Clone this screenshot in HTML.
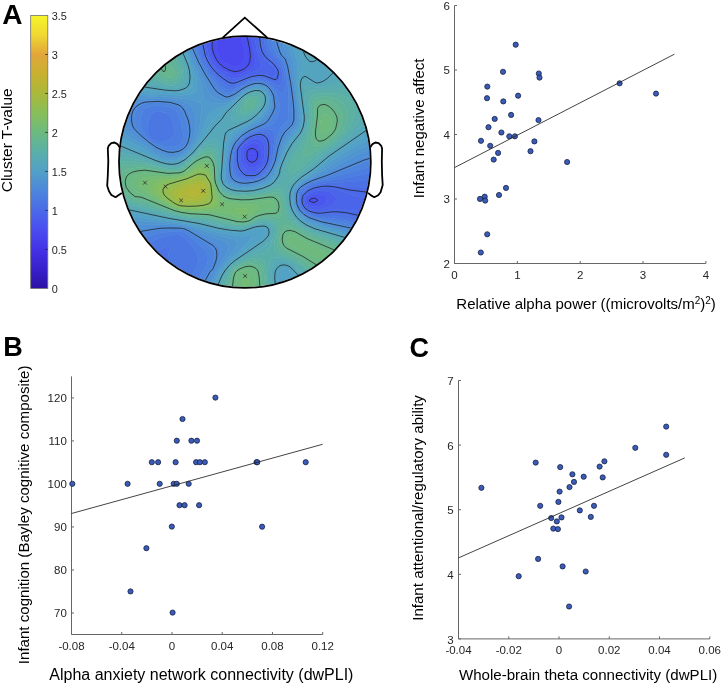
<!DOCTYPE html>
<html><head><meta charset="utf-8"><title>figure</title>
<style>html,body{margin:0;padding:0;background:#fff;overflow:hidden;width:722px;height:685px;} svg{display:block;will-change:transform;} text{font-family:"Liberation Sans", sans-serif;}</style>
</head><body>
<svg width="722" height="685" viewBox="0 0 722 685" font-family='"Liberation Sans", sans-serif'>
<rect width="722" height="685" fill="#fff"/>
<text x="2.3" y="24.2" font-size="28" text-anchor="start" font-weight="bold" fill="#000">A</text>
<text x="3.2" y="355.8" font-size="27" text-anchor="start" font-weight="bold" fill="#000">B</text>
<text x="409.5" y="356.6" font-size="27" text-anchor="start" font-weight="bold" fill="#000">C</text>
<defs><linearGradient id="cbg" x1="0" y1="1" x2="0" y2="0"><stop offset="0.0000" stop-color="#2c10a4"/><stop offset="0.0714" stop-color="#3820cc"/><stop offset="0.1429" stop-color="#4432e6"/><stop offset="0.2143" stop-color="#4a4cf0"/><stop offset="0.2857" stop-color="#4a6ae8"/><stop offset="0.3571" stop-color="#4d86dc"/><stop offset="0.4286" stop-color="#52a0c8"/><stop offset="0.5000" stop-color="#5aafa8"/><stop offset="0.5714" stop-color="#6cba80"/><stop offset="0.6429" stop-color="#88be5a"/><stop offset="0.7143" stop-color="#aab83a"/><stop offset="0.7857" stop-color="#c8b030"/><stop offset="0.8571" stop-color="#e2a63a"/><stop offset="0.9286" stop-color="#f0d832"/><stop offset="1.0000" stop-color="#f5f52a"/></linearGradient></defs>
<rect x="30.7" y="15.5" width="17.099999999999998" height="272.9" fill="url(#cbg)" stroke="#707070" stroke-width="0.8"/>
<text x="51.7" y="292.59999999999997" font-size="10.9" text-anchor="start" font-weight="normal" fill="#262626">0</text>
<line x1="45.199999999999996" y1="249.41" x2="47.8" y2="249.41" stroke="#262626" stroke-width="0.8"/>
<text x="51.7" y="253.6142857142857" font-size="10.9" text-anchor="start" font-weight="normal" fill="#262626">0.5</text>
<line x1="45.199999999999996" y1="210.43" x2="47.8" y2="210.43" stroke="#262626" stroke-width="0.8"/>
<text x="51.7" y="214.6285714285714" font-size="10.9" text-anchor="start" font-weight="normal" fill="#262626">1</text>
<line x1="45.199999999999996" y1="171.44" x2="47.8" y2="171.44" stroke="#262626" stroke-width="0.8"/>
<text x="51.7" y="175.6428571428571" font-size="10.9" text-anchor="start" font-weight="normal" fill="#262626">1.5</text>
<line x1="45.199999999999996" y1="132.46" x2="47.8" y2="132.46" stroke="#262626" stroke-width="0.8"/>
<text x="51.7" y="136.65714285714284" font-size="10.9" text-anchor="start" font-weight="normal" fill="#262626">2</text>
<line x1="45.199999999999996" y1="93.47" x2="47.8" y2="93.47" stroke="#262626" stroke-width="0.8"/>
<text x="51.7" y="97.67142857142856" font-size="10.9" text-anchor="start" font-weight="normal" fill="#262626">2.5</text>
<line x1="45.199999999999996" y1="54.49" x2="47.8" y2="54.49" stroke="#262626" stroke-width="0.8"/>
<text x="51.7" y="58.6857142857143" font-size="10.9" text-anchor="start" font-weight="normal" fill="#262626">3</text>
<text x="51.7" y="19.7" font-size="10.9" text-anchor="start" font-weight="normal" fill="#262626">3.5</text>
<text x="12.5" y="192.3" font-size="15.5" text-anchor="start" font-weight="normal" fill="#000" transform="rotate(-90 12.5 192.3)">Cluster T-value</text>
<clipPath id="headclip"><circle cx="244.9" cy="162.0" r="125.0"/></clipPath>
<g clip-path="url(#headclip)">
<path d="M221,34.3L237.7,34.1L240.2,37.1L241.8,40.1L243.2,44.1L244.3,49.1L244.7,54.1L244.4,58.1L243.5,61.1L242,63.5L240.1,65.1L237.7,66.1L235,66.5L230,65.5L224,62.2L220,57.7L217,51.1L216.4,46.1L218,39.8ZM251,153.5L252,153.1L253.6,154.1L253.9,155.1L253,157L251.3,157.1L250.4,156.1L250.2,155.1Z" fill="#4949ef" stroke="#4949ef" stroke-width="0.7"/>
<path d="M213,34.6L213.1,34.1L221.2,34.1L218,39.8L216.4,46.1L217.3,52.1L220.3,58.1L223,61.3L226.9,64.1L231,65.8L235,66.5L239,65.6L242,63.5L243.9,60.1L244.6,56.1L244.4,50.1L242.9,43.1L240.8,38.1L237.7,34.1L246.4,34.1L248,38.4L249.4,45.1L250.9,56.1L250.3,62.1L249,65L247.4,67.1L244.9,69.1L240.5,71.1L237,71.8L234,71.9L228.1,70.1L224.4,68.1L220.4,65.1L216,59.4L212.8,52.1L211.7,45.1ZM251,148L253,148L256,149.3L257.4,151.1L258,153.1L258,156.1L257,159.7L255,161.9L253,162.8L251,162.7L249,161.7L247.4,160.1L246.7,158.1L246.5,153.1L247,150.7L248.3,149.1ZM250.5,154.1L250.2,155.1L251,157L252,157.3L253,157L253.9,155.1L253.6,154.1L252,153.1ZM312,198L314,197.7L318,198.9L319,200.1L318.6,201.1L317.1,202.1L314,202.9L310.4,202.1L309,201.1L308.8,200.1L310,198.8Z" fill="#4a4fef" stroke="#4a4fef" stroke-width="0.7"/>
<path d="M209,34.1L213.1,34.1L211.8,44.1L211.9,48.1L213.8,55.1L217,61L220.4,65.1L225,68.5L230.5,71.1L235,72L240,71.2L244.9,69.1L248.2,66.1L250,63.1L250.9,58.1L250.5,51.1L248,38.4L246.4,34.1L250.6,34.1L255.2,59.1L255.2,63.1L254,66.1L251,69.1L246,72.1L241,74.1L236,75.2L233,75.1L230,74.3L222,69.9L218.7,67.1L216,64.1L213,59.3L211,55L209.2,47.1L208.7,36.1L208.7,34.1ZM252,142.9L256,142.8L259,144.8L261,148.9L261.6,153.1L261,159.1L259,163.7L256,166.8L254,167.8L252,168.1L250,167.7L248,166.5L245,163.1L243.6,159.1L243.1,154.1L243.3,151.1L245,147.8L248,144.9ZM250.5,148.1L248,149.3L246.8,151.1L246.5,154.1L246.7,158.1L247.4,160.1L249,161.7L251,162.7L253,162.8L255,161.9L257,159.7L258,156.1L258,153.1L257.4,151.1L255.6,149.1L253,148ZM316,194.1L321,194.2L325.1,196.1L326.1,197.1L326.9,199.1L326,202.1L323,204.8L319,206.4L314,206.6L309,205.2L307.7,204.1L306.5,202.1L306.3,200.1L307,198.1L309,196.2L311,195.2ZM311.6,198.1L309.6,199.1L308.8,200.1L309,201.1L310.4,202.1L314,202.9L317.1,202.1L318.6,201.1L319,200.1L318,198.9L314,197.7Z" fill="#4a56ed" stroke="#4a56ed" stroke-width="0.7"/>
<path d="M205,34.1L208.7,34.1L209.1,46.1L210.1,52.1L212.4,58.1L216,64.1L220,68.3L225,71.9L230,74.3L235,75.2L240,74.4L246,72.1L252.2,68.1L254.6,65.1L255.3,62.1L255.1,58.1L250.6,34.1L254.1,34.1L257,51.1L261.4,64.1L261.1,67.1L258.9,69.1L255.1,71.1L243.2,76.1L238,77.7L235,78.3L232,78.2L226,75.7L221,72.3L217,68.8L213.2,64.1L210.3,59.1L207.7,52.1L204.8,35.1L204.7,34.1ZM253,139.1L258,138.6L260,139.4L262,141.1L263.2,143.1L264.2,146.1L264.8,153.1L263.7,161.1L261.2,166.1L259,168.7L256.1,171.1L254,172L252,172.1L249,171.6L247,170.6L243,166.2L241,161.1L240.2,153.1L241.2,149.1L244,145.1L248.6,141.1ZM251.5,143.1L248,144.9L245,147.8L243.3,151.1L243.1,154.1L243.6,159.1L245,163.1L248,166.5L250,167.7L252,168.1L254,167.8L256,166.8L259,163.7L261,159.1L261.6,153.1L260.7,148.1L258.3,144.1L257,143.2L255,142.6ZM316,191.1L320,190.6L324,190.8L328,191.7L331,193.1L333.9,195.1L335.5,197.1L336.2,199.1L335.9,201.1L334.5,203.1L331.7,205.1L327.6,207.1L322,209.1L316,209.6L312,209L309,207.9L306.5,206.1L305,203.7L304.4,201.1L304.9,198.1L306.1,196.1L309,193.7L312,192.2ZM315.7,194.1L310,195.7L307,198.1L306.3,201.1L307,203.1L308,204.4L312,206.3L317,206.6L322,205.3L325.2,203.1L326.6,201.1L326.9,199.1L326.1,197.1L325.1,196.1L321,194.2Z" fill="#4a5dec" stroke="#4a5dec" stroke-width="0.7"/>
<path d="M201,34.1L204.7,34.1L208.2,54.1L210.8,60.1L214,65.2L218,69.8L224,74.4L230,77.6L234,78.4L239,77.5L245.6,75.1L257.2,70.1L260.3,68.1L261.1,67.1L261.4,64.1L257,51.1L254.1,34.1L257.6,34.1L259.3,47.1L261.1,53.1L265,59.4L271.7,65.1L274.2,68.1L276.1,72.1L275.5,75.1L274,76.4L272,76.5L264,74L260,73.7L251,75.6L235,81.5L231,81.4L227,79.6L221,75.5L217,72.1L213,67.6L209.4,62.1L205.9,54.1L204,44.1L201.8,38.1ZM255,135.9L259,135.5L261.7,136.1L264,137.5L266,140.1L267,143.1L267.6,148.1L267,158.4L266,162.5L264.3,166.1L259,172.2L255,174.6L248,174.6L246,174L244,172.4L241.3,169.1L239.6,166.1L238.4,161.1L238.1,151.1L240,147L245.2,141.1L249.4,138.1ZM252.9,139.1L248,141.5L244,145.1L241.2,149.1L240.2,153.1L241,161.1L243,166.2L247,170.6L249,171.6L252,172.1L254,172L256.1,171.1L259,168.7L261.2,166.1L263.7,161.1L264.8,153.1L264.2,146.1L263.2,143.1L262,141.1L260,139.4L258,138.6L256,138.5ZM318,188.1L325,187.5L333,188.6L338,189.9L350,194.4L363.9,198.1L368,200L370,201.9L370.9,204.1L370.5,206.1L369,208.1L367,209.5L364,210.8L361,211.3L343,209.4L333,209.9L320,212.2L316,212.1L311,210.9L307,209L304.3,206.1L302.8,202.1L303,198.1L304.6,195.1L308,191.9L312,189.8ZM316,191.1L312,192.2L309,193.7L306.1,196.1L304.9,198.1L304.4,201.1L305,203.7L306.5,206.1L309,207.9L312,209L316,209.6L322,209.1L327.6,207.1L331.7,205.1L334.5,203.1L335.9,201.1L336.2,199.1L335.5,197.1L333.9,195.1L331,193.1L328,191.7L324,190.8L320,190.6Z" fill="#4a64ea" stroke="#4a64ea" stroke-width="0.7"/>
<path d="M198,34.1L200.8,34.1L204,44L205.4,52.1L206.5,56.1L209.4,62.1L212.6,67.1L217,72.1L223,77L229,80.6L233,81.7L237,80.9L251,75.6L258,74L264,74L272,76.5L274,76.4L275.5,75.1L276.1,72.1L274.9,69.1L271.7,65.1L264.8,59.1L262.6,56.1L260.7,52.1L259.1,46.1L257.6,34.1L260.6,34.1L262,46.1L264,52L267.9,57.1L275,63.3L279,69.3L280,74.1L279.8,77.1L278.9,80.1L277,81.7L275,81.7L264,77L261,76.4L258,76.4L250,78L234,84.5L231,84.5L227,82.9L221,78.5L216,74L212,69.5L208.4,64.1L204.5,56.1L201.8,45.1L198.7,38.1L197.5,34.1ZM256,133.9L260,133.4L264,134.1L267,135.9L268.6,138.1L269.7,142.1L270,147.1L269.6,154.1L268.7,160.1L267.4,164.1L265.2,168.1L262.8,171.1L259,174.5L256.1,176.1L254,176.6L246,176.4L243.2,175.1L241.1,173.1L239,170.2L237.5,167.1L236.4,160.1L236.8,150.1L240,144.7L245.3,139.1L250,136.1ZM254.3,136.1L249,138.3L245,141.3L240,147L238.1,151.1L238.4,161.1L239.6,166.1L241.3,169.1L244,172.4L246,174L248,174.6L255,174.6L259,172.2L262.1,169.1L264.9,165.1L267,158.1L267.6,147.1L267,143.1L266,140.1L264,137.5L261,135.8L258,135.5ZM325,185.1L336,185.3L351,186.9L373,187.4L373,218.2L367,218.6L361,218.2L347,215L336,213.5L318,214.1L311,212.5L306,210L303,206.6L301.4,202.1L301.5,198.1L303.3,194.1L307,190.5L312,187.8L318,186ZM317.9,188.1L312,189.8L308,191.9L304.6,195.1L303,198.1L302.8,202.1L304.3,206.1L307,209L311,210.9L316,212.1L320,212.2L333,209.9L343,209.4L361,211.3L364,210.8L367,209.5L369,208.1L370.5,206.1L370.9,204.1L370,201.9L368,200L363.9,198.1L350,194.4L338,189.9L333,188.6L325,187.5Z" fill="#4a6ae8" stroke="#4a6ae8" stroke-width="0.7"/>
<path d="M195,34.1L197.5,34.1L199.1,39.1L201.8,45.1L204.8,57.1L207.8,63.1L211,68.1L216,74L222,79.3L228,83.4L232,84.7L236,83.9L250,78L257,76.5L261,76.4L264,77L275,81.7L277,81.7L278.9,80.1L279.8,77.1L280,74.1L279.6,71.1L278.4,68.1L274.8,63.1L266.1,55.1L264,52.1L262.8,49.1L261.7,44.1L260.6,34.1L263.4,34.1L264.5,44.1L266.4,50.1L269.1,54.1L278,63.2L281.3,69.1L282.2,73.1L282.5,78.1L282.1,82.1L281.3,84.1L280,85.3L277,85.4L265,79.3L262,78.4L258,78.2L253,78.8L249,80L234,86.9L230,87.2L227,86.1L222,82.4L216,76.8L211.1,71.1L207.7,66.1L203.1,57.1L200,46.7L196.5,39.1ZM258,132.1L262,131.7L266,132.1L269,133.5L271,136.1L271.9,140.1L271.9,145.1L271.2,155.1L270.1,161.1L268.1,166.1L266,169.5L262.8,173.1L259,176L256,177.4L253,178L247,178.2L244,177.6L241.1,176.1L239,174.1L237,171.1L235.8,168.1L234.9,161.1L235.7,150.1L237,147.1L239,144.1L244.8,138.1L251,134.3ZM255.1,134.1L249,136.6L244.2,140.1L238.9,146.1L236.6,151.1L236.4,161.1L237.5,167.1L239,170.2L241.1,173.1L243.2,175.1L246,176.4L255,176.4L259.5,174.1L263,170.9L265.9,167.1L267.8,163.1L268.9,159.1L269.7,153.1L269.9,146.1L269.5,141.1L268.6,138.1L266,135.1L263,133.8L259,133.4ZM366,180.1L373,179.4L373,187.4L350,186.9L337,185.3L329,185L321,185.5L314,187.1L308,189.8L304,193.2L301.8,197.1L301.4,202.1L302.7,206.1L305,209.2L308,211.2L312.8,213.1L320,214.3L331,213.4L337,213.6L347,215L361,218.2L367,218.6L373,218.2L373,223.6L363,222.5L349,218.7L338,216.7L331,216L320,215.9L315,215.1L310,213.4L306,211.3L303,208.5L301.1,205.1L300.3,202.1L300.2,199.1L300.8,196.1L302,193.3L306,189.4L312,186.2L318,184.4L326,183L350,181.8ZM166,246.8L169,246.2L170,246.3L171.1,247.1L168.5,254.1L167.9,257.1L168.6,273.1L167.7,277.1L165.9,281.1L160.1,290.1L117,290.1L117,269.7L160,249.2Z" fill="#4b71e5" stroke="#4b71e5" stroke-width="0.7"/>
<path d="M192,34.1L194.7,34.1L196.5,39.1L199.8,46.1L203.5,58.1L206.5,64.1L210.3,70.1L216,76.8L223,83.3L227,86.1L231,87.3L235,86.6L250,79.6L257,78.2L261,78.3L264,79L277,85.4L280,85.3L281.3,84.1L282.3,81.1L282.5,77.1L282.1,72.1L280.9,68.1L277.9,63.1L268.3,53.1L266.4,50.1L265.2,47.1L264.2,42.1L263.4,34.1L266.4,34.1L267.5,43.1L269.6,49.1L272.9,54.1L280.7,63.1L283.3,69.1L284.6,75.1L285.1,82.1L284.9,87.1L283.9,91.1L283,92.3L281,92.4L268,82.5L263,80.4L259,79.7L254,80.2L249,81.6L233,89.7L229,90L225,88.4L221,85.1L215,78.8L210,72.7L206.3,67.1L201.6,58.1L198,47.8L194.2,40.1ZM155,111.8L159,111.4L165,112.4L168.4,114.1L171,117.1L173.6,126.1L174.2,132.1L173.4,135.1L172.3,137.1L169,140.1L164,141.2L157,140.9L151,139.4L149.2,137.1L147.1,130.1L147.3,124.1L151,115L152.6,113.1ZM261,130L266,129.5L270,129.8L272.6,131.1L274,133.8L274.4,139.1L273.1,153.1L272.4,158.1L270.9,163.1L268.6,168.1L266,171.9L263,174.8L259.6,177.1L256,178.6L251,179.5L246,179.6L242,178.8L239,177.3L237,175.4L235.6,173.1L234.2,169.1L233.5,165.1L233.4,160.1L234,153.1L235,149.1L236.4,146.1L239,142.3L245,136.6L252,132.6ZM257.8,132.1L251,134.3L244.8,138.1L239,144.1L237,147.1L235.7,150.1L234.9,161.1L235.8,168.1L237,171.1L239,174.1L241.1,176.1L244,177.6L247,178.2L253,178L256,177.4L259,176L262.8,173.1L266,169.5L268.1,166.1L270.1,161.1L271.2,155.1L271.9,145.1L271.9,140.1L271,136.1L269,133.5L266,132.1L262,131.7ZM370,173L373,172.5L373,179.4L351,181.7L326,183L318,184.4L312,186.2L306.4,189.1L302.9,192.1L300.8,196.1L300.2,201.1L301.1,205.1L303.5,209.1L307,212L311,213.8L319,215.8L332,216L339,216.8L350,218.9L363,222.5L373,223.6L373,228.1L363,226L353,222.5L346,220.8L333,218.5L320,217.5L314,216.2L309,214.3L305,211.9L302.2,209.1L300.4,206.1L299.1,200.1L300,194.1L301,192.1L303,189.8L309,186L315,183.6L321,182L349,177.3ZM174,235.1L178,235.1L181,235.7L183.7,237.1L186.1,239.1L190.4,244.1L195.2,251.1L197.3,255.1L198.3,259.1L197.7,264.1L194,271.4L189.7,277.1L178.2,290.1L160.1,290.1L165.4,282.1L168.3,275.1L168.7,270.1L167.8,258.1L168.5,254.1L171,248.1L171.1,247.1L170,246.3L167,246.6L162,248.3L117,269.7L117,254.6L140,246.7L159.9,238.1L167.2,236.1Z" fill="#4b77e2" stroke="#4b77e2" stroke-width="0.7"/>
<path d="M190,34.1L192,34.1L194.2,40.1L198,47.8L202.1,59.1L207.6,69.1L216,80L221,85.1L225,88.4L228,89.8L232,89.9L235,88.9L249,81.6L255,80L260,79.8L264,80.7L268,82.5L280,91.8L282,92.6L283,92.3L284,90.8L285,86.4L285.1,80.1L284.1,72.1L282.7,67.1L281,63.6L272.1,53.1L268.7,47.1L267.2,41.1L266.4,34.1L269.8,34.1L270.7,41.1L273,48.1L276.9,55.1L282.7,62.1L284.1,65.1L285.5,70.1L287.2,79.1L288.2,88.1L288.9,116.1L288.3,119.1L287.4,121.1L281,127.1L279,130.7L275.9,145.1L274,158.1L271.1,166.1L269,170.1L266,174L260,178.3L254,180.3L246,181.2L240,180.1L236,177.8L233.6,174.1L232.2,168.1L231.9,161.1L232.8,153.1L234.2,148.1L236.3,144.1L239.5,140.1L244,136L248,133.3L252,131.4L270,125.4L272.3,124.1L274.5,122.1L278.6,114.1L280.2,108.1L279.6,104.1L276.6,94.1L273.2,89.1L269,85L264,82.3L259,81.2L254,81.6L249,83.1L242,86.7L235,91.1L231,92.7L227,92.7L223,90.6L219,87.2L214,81.3L209,74.6L204.8,68.1L200.6,60.1L196,48.8L191.6,40.1L189.2,34.1ZM260.5,130.1L252,132.6L245,136.6L239,142.3L236.4,146.1L235,149.1L234,153.1L233.4,160.1L233.5,165.1L234.2,169.1L235.6,173.1L237,175.4L239,177.3L242,178.8L246,179.6L251,179.5L256,178.6L259.6,177.1L263,174.8L266,171.9L268.6,168.1L270.9,163.1L272.7,156.1L274.2,142.1L274.4,137.1L273.8,133.1L272.6,131.1L270,129.8L266,129.5ZM151,105.9L158,105.6L169,107.1L174,109.1L177,112L178.6,115.1L181,122.2L183.1,132.1L183.1,136.1L182.4,140.1L181,142.9L179,144.7L176.1,146.1L173,146.7L169,146.8L165,146.2L158,144.2L151,141.4L149.1,140.1L147.5,138.1L143.6,132.1L141.2,127.1L140.3,123.1L140.4,119.1L141.6,114.1L143.8,110.1L147,107.4ZM154.2,112.1L152.6,113.1L151,115.1L148,121.7L147.1,125.1L147.3,131.1L149.7,138.1L150.5,139.1L152,139.9L158.7,141.1L165,141.1L169,140.1L172.3,137.1L173.4,135.1L174.2,132.1L173.6,126.1L171,117.1L168.4,114.1L164,112.1L158,111.4ZM373,166.1L373,172.5L349,177.3L322,181.8L315,183.6L310,185.5L305,188.2L301.7,191.1L299.7,195.1L299.1,200.1L300,205.1L302.2,209.1L305.3,212.1L310,214.7L319,217.3L335,218.8L352,222.2L363,226L373,228.1L373,232.2L361,228.7L350,224.3L334,221L321,219.3L313,217.2L309,215.6L305,213.2L302.6,211.1L300.2,208.1L298.8,205.1L298,201.1L298.6,194.1L299.3,192.1L301,189.6L305.7,186.1L311,183.5L316,181.6ZM167,232L179,231.4L182,231.9L185.1,233.1L191.8,238.1L200.8,246.1L204.6,250.1L207.1,254.1L207.9,257.1L208.1,260.1L206.8,265.1L199,278.3L189.3,290.1L178.2,290.1L189.7,277.1L194.2,271.1L197.7,264.1L198.3,261.1L198.2,258.1L196.3,253.1L191.1,245.1L186.1,239.1L182,236.1L179,235.2L175,235L163.1,237.1L157.2,239.1L138,247.5L117,254.6L117,244.6L139,239.6L157,233.8Z" fill="#4c7de0" stroke="#4c7de0" stroke-width="0.7"/>
<path d="M187,34.1L189.2,34.1L192,41.1L196.2,49.1L200.6,60.1L207,71.6L217,84.9L220,88.2L223.7,91.1L228,92.9L232,92.4L235,91.1L242,86.7L249,83.1L254,81.6L259,81.2L264,82.3L269.1,85.1L274,90.1L277,95.1L279.6,104.1L280.2,108.1L278.6,114.1L274.5,122.1L272.3,124.1L270,125.4L253,131L246,134.6L242,137.6L238.6,141.1L235.7,145.1L233.9,149.1L232.5,155.1L231.9,163.1L232.3,169.1L233.6,174.1L235.3,177.1L238,179.2L242,180.7L246,181.2L253,180.5L259,178.7L264.8,175.1L268.3,171.1L271.6,165.1L273.7,159.1L276,144.4L279.2,130.1L281,127.1L287,121.6L288.6,118.1L289,113.1L288.4,92.1L287.7,83.1L286.4,74.1L285,67.9L283.3,63.1L275.6,53.1L271.9,45.1L270.5,40.1L269.8,34.1L273.5,34.1L274.4,40.1L277.9,51.1L279.9,55.1L284.5,60.1L286.9,67.1L289.2,79.1L291,91.4L292.5,107.1L292.9,118.1L292.4,121.1L291,124L283.8,131.1L280.9,136.1L277.6,146.1L275,159.9L271.7,168.1L269.4,172.1L267,175.1L262,178.7L255,181.3L246,182.7L240,182.1L235,179.9L232.4,177.1L231,172.7L230.4,165.1L230.9,157.1L232.1,151.1L234,146.1L236.3,142.1L240,137.9L244,134.6L249,131.4L265.9,124.1L268.4,122.1L270.8,119.1L274.6,112.1L276.2,107.1L274.8,97.1L273.4,93.1L270.9,89.1L267,85.4L263,83.4L258,82.6L253,83.3L249,84.6L242,88.4L235,93.2L229,95.7L227,95.8L225,95.3L219.8,92.1L217,89.7L214,85.9L204,70.5L198.6,60.1L193.8,49.1L189.9,42.1L186.5,34.1ZM147,103L157,102.4L170,103.6L177,105.9L181.1,109.1L182.8,112.1L186.3,121.1L188.2,131.1L187.9,136.1L187,141.1L185.1,145.1L183,147.5L179,149.8L174,151L169,150.8L163,149.2L156,146.1L149,141.6L143.1,136.1L138.5,131.1L135.6,127.1L134.5,124.1L134,118.1L134.8,113.1L136.2,110.1L139,106.9L143,104.3ZM150,106.1L145.8,108.1L143.1,111.1L141.2,115.1L140.3,120.1L140.4,124.1L141.6,128.1L144.2,133.1L148.2,139.1L150,140.8L155,143.1L161,145.2L167,146.6L174,146.6L177,145.8L179.9,144.1L181.5,142.1L182.7,139.1L183.2,135.1L183,131.1L182,125.8L180,119.1L178.2,114.1L176.3,111.1L173,108.5L168,106.8L157,105.5ZM373,160L373,166.1L316,181.6L307,185.4L302.6,188.1L300,190.8L298.6,194.1L297.9,199.1L298.5,204.1L300.9,209.1L304,212.4L309,215.6L319,218.9L335,221.2L352,224.8L361,228.7L373,232.2L373,236.1L357,230.2L351,227L334,223.2L322,221.2L313,218.6L308,216.5L305,214.6L302,212L299.6,209.1L298,206.1L297.2,203.1L296.8,199.1L297,195.1L298.7,190.1L300.4,188.1L303,186.1L314,180.6L328.2,176.1L365,162.1ZM167,229.1L180,229L186,230.5L195.1,236.1L208.3,245.1L211.7,248.1L213.1,250.1L214.1,253.1L214.5,257.1L213.9,261.1L212.4,266.1L211.4,268.1L208,272.1L203,281.3L196.5,290.1L189.3,290.1L199,278.3L206.3,266.1L207.9,262.1L207.9,257.1L206,252.1L202.8,248.1L193,239.1L185.1,233.1L182,231.9L178,231.4L170,231.7L162,232.7L155,234.3L138,239.9L117,244.6L117,236.7L139,233.9L156,230.1Z" fill="#4d84dd" stroke="#4d84dd" stroke-width="0.7"/>
<path d="M184,34.1L186.5,34.1L189.9,42.1L194,49.6L199.5,62.1L207,75.5L215,87.2L219.8,92.1L225,95.3L227,95.8L229,95.7L235,93.2L242,88.4L249,84.6L254,83.1L259,82.6L264,83.8L268,86.1L271.6,90.1L273.9,94.1L274.8,97.1L276.2,106.1L276.1,108.1L273.6,114.1L270.1,120.1L268,122.5L265,124.6L249,131.4L242,136.1L238.8,139.1L236,142.5L234,146.1L232.4,150.1L231.1,156.1L230.4,164.1L230.8,171.1L231.9,176.1L234,179.1L237,181L241,182.3L245,182.7L253,181.8L259,180.1L265,176.8L268.7,173.1L272,167.4L274.6,161.1L277.6,146.1L281,135.8L283.8,131.1L290.9,124.1L292.6,120.1L292.7,109.1L291.5,96.1L289.5,81.1L286.9,67.1L284.5,60.1L280,55.2L278.3,52.1L273.9,38.1L273.5,34.1L277.3,34.1L277.9,38.1L281.3,51.1L282.8,54.1L286.9,59.1L288.4,64.1L294,99.3L295,109.1L295.4,119.1L294.5,123.1L293,126L285.3,134.1L282,139.7L279,148L276.3,160.1L272,170.4L268.1,176.1L264,179.2L256,182.4L248,184L241,184L235,182.3L231.8,180.1L230.4,178.1L229.6,176.1L228.9,170.1L229.1,162.1L229.9,155.1L231.5,149.1L234,143.4L237.1,139.1L241,135.3L246,131.8L263.1,123.1L266.4,120.1L269.2,116.1L272.4,110.1L273.4,106.1L272.7,97.1L270.9,92.1L268,88.1L265,85.8L261,84.3L257,84L252,84.9L248,86.4L242,89.9L235,95L229,97.9L226,98.3L224,98L217,94.4L214.4,92.1L212.2,89.1L205,76.7L197.5,62.1L192,50.1L187.5,42.1ZM143,100.9L159,100.2L169,100.9L179,103.3L182.6,105.1L185,107.1L187.5,111.1L190.7,119.1L191.8,125.1L192,130.1L191.1,137.1L189.2,143.1L186.9,147.1L184,150L179,152.8L174,154L169,153.9L163,152.2L158,149.8L154,147.3L137.8,135.1L132,129.7L129.7,126.1L128.4,121.1L128.3,116.1L129.3,111.1L131,108.1L134,105L138,102.6ZM146.7,103.1L143,104.3L138.8,107.1L136.2,110.1L134.8,113.1L134,118.1L134.5,124.1L135.6,127.1L138.5,131.1L143.1,136.1L149,141.6L156,146.1L163,149.2L169,150.8L174,151L179,149.8L183,147.5L185.1,145.1L187,141.1L187.9,136.1L188.2,131.1L186.3,121.1L182.8,112.1L181.1,109.1L177,105.9L170,103.6L156,102.4ZM371,154.8L373,154.2L373,160L365,162.1L328.2,176.1L314,180.6L304,185.5L300.4,188.1L298.2,191.1L297.2,194.1L296.8,199.1L297.4,204.1L299.6,209.1L303,213L308,216.5L313,218.6L320,220.7L335,223.4L352,227.4L357,230.2L373,236.1L373,239.8L355,231.9L349,228.9L322,222.9L312,219.6L305,216L299.7,211.1L297.8,208.1L296.5,205.1L295.8,201.1L295.7,197.1L296.2,193.1L297,190.7L298.6,188.1L301,185.9L305,183.3L312,179.8L324.7,175.1L361,158.3ZM156,227.1L177,227L185.1,228.1L189.9,230.1L215.1,243.1L218.1,245.1L219.8,247.1L220.8,250.1L220.6,253.1L219.3,258.1L216.9,264.1L214.6,269.1L210.7,274.1L206,283L201.6,290.1L196.5,290.1L203,281.3L208.6,271.1L212,267.1L214.3,259.1L214.1,253.1L212.5,249.1L209.5,246.1L188.9,232.1L185,230.1L181,229.1L164,229.2L154,230.5L139,233.9L117,236.7L117,230.2L139,229Z" fill="#4e8ad9" stroke="#4e8ad9" stroke-width="0.7"/>
<path d="M182,34.1L183.8,34.1L200.5,68.1L209,83.8L213.6,91.1L217,94.4L224,98L226,98.3L229,97.9L235,95L242,89.9L248,86.4L253,84.6L258,83.9L262,84.5L266,86.4L269,89.2L271.9,94.1L272.9,98.1L273.4,107.1L271.4,112.1L267.2,119.1L263,123.1L255.8,127.1L248,130.6L240.1,136.1L234.8,142.1L231.2,150.1L229.7,156.1L228.9,164.1L229,172.1L229.9,177.1L231.8,180.1L234.6,182.1L239,183.6L244,184.2L252,183.4L259,181.4L265,178.6L269,175.1L272.2,170.1L275.6,162.1L279.2,147.1L282.3,139.1L285.3,134.1L293,126L295,121.6L295.4,116.1L294.4,103.1L291.4,81.1L288.6,65.1L286.9,59.1L282.8,54.1L281.7,52.1L277.5,36.1L277.3,34.1L281.4,34.1L282.3,40.1L284.4,49.1L285.7,52.1L289.3,58.1L290.8,63.1L296.5,105.1L297.4,115.1L297.4,120.1L296.4,124.1L294.9,127.1L287,136.1L283,142.7L280.5,149.1L277.4,161.1L272.7,172.1L269.3,177.1L265,180.4L257,183.6L248,185.4L241,185.6L234.5,184.1L230,181.2L228.1,178.1L227.4,174.1L227.4,166.1L228.2,158.1L229.5,151.1L232.1,144.1L235,139.4L239,135.2L244,131.5L256.1,125.1L262,121.1L265,118L268.9,112.1L271,107.1L271.4,103.1L271.1,97.1L269.3,92.1L267,89L264,86.8L260,85.4L256,85.3L251,86.5L247,88.3L242.4,91.1L234,97.3L228,100.2L225,100.7L221,100.3L217.1,99.1L214,97.5L211,94.8L208.6,91.1L191,52.4L181.1,34.1ZM138,98.9L144,98.3L152,98.7L162,98.1L168,98.6L183,101.7L187,103.5L190.4,106.1L193.2,110.1L194.9,115.1L195.8,122.1L195.6,129.1L194.5,135.1L192,142.1L189.3,147.1L186,150.9L181,154.3L176,156.1L170,156.5L164,155.1L159.2,153.1L155,150.7L147,144.1L133.7,136.1L127.8,131.1L124.4,126.1L122.7,121.1L122.2,116.1L123.2,111.1L125.2,107.1L129,103.1L133,100.7ZM142.2,101.1L138,102.6L133.9,105.1L131,108.1L129,112.1L128.2,117.1L128.6,122.1L129.7,126.1L132.3,130.1L137.8,135.1L154,147.3L159,150.4L164,152.5L170,154L175,153.8L180.6,152.1L185,149.2L188,145.4L190,141.1L191.5,135.1L192,129.1L191.5,123.1L190.4,118.1L187.5,111.1L185,107.1L182.6,105.1L179,103.3L169,100.9L159,100.2L147,100.5ZM372,149L373,148.7L373,154.2L366,156.3L360,158.7L324.7,175.1L311,180.2L303,184.5L299.6,187.1L297.3,190.1L296,194.1L295.6,199.1L296.5,205.1L298.3,209.1L302,213.6L307,217.3L312,219.6L321,222.6L350,229.2L355,231.9L373,239.8L373,243.6L348,230.7L322,224.5L311,220.7L305,217.5L300,213.1L297.6,210.1L296.1,207.1L294.9,203.1L294.5,199.1L294.7,195.1L295.6,191.1L297,188.4L299,186L302,183.6L307,180.6L323.7,173.1L351,158L362,152.8ZM118,224.5L160,224.5L177,225.4L184,226.2L190,228.1L208,235.7L224,241.6L227.6,244.1L228.7,246.1L228.7,248.1L227.2,252.1L216.7,270.1L212.7,276.1L205.4,290.1L201.6,290.1L206,283L210.7,274.1L214.6,269.1L218.9,259.1L220.4,254.1L220.8,250.1L219.8,247.1L218,245.1L215.1,243.1L189.9,230.1L183,227.6L176,226.9L159,226.9L139,229L117,230.2L117,224.5Z" fill="#4f8fd5" stroke="#4f8fd5" stroke-width="0.7"/>
<path d="M179,34.1L181.1,34.1L191,52.4L208.6,91.1L211,94.8L214,97.5L217.1,99.1L221,100.3L225,100.7L228,100.2L234,97.3L243,90.7L248,87.8L252.2,86.1L257,85.2L261,85.6L265,87.4L267.9,90.1L270.2,94.1L271.3,99.1L271.2,106.1L269.4,111.1L266,116.7L263.1,120.1L260,122.6L255,125.7L246,130.2L238,136.1L233.2,142.1L231.2,146.1L229.5,151.1L228.2,158.1L227.4,166.1L227.4,174.1L228.1,178.1L229.9,181.1L233,183.4L238,185.1L244,185.7L252,184.8L260,182.6L266,179.8L270,176.3L273,171.5L276.6,163.1L280.8,148.1L283.3,142.1L287,136.1L294.2,128.1L296.8,123.1L297.5,118.1L296.9,109.1L291,64.1L289.3,58.1L285.7,52.1L284.4,49.1L281.6,36.1L281.4,34.1L285.9,34.1L287.7,46.1L292.2,57.1L293.7,63.1L295.2,85.1L299.1,113.1L299.1,121.1L298.2,125.1L296.7,128.1L288,138.6L284.1,145.1L282,150.3L278.4,162.1L273.4,174.1L270.6,178.1L267,181.1L261,183.9L252,186.4L245,187.2L238,186.8L232,185L228,182.1L226.3,179.1L225.7,174.1L226.3,163.1L227.4,154.1L229.2,147.1L231.3,142.1L234,137.9L238,133.9L244,129.7L257.3,122.1L261,119L265,114.3L268.1,109.1L269.6,104.1L269.6,97.1L267.6,92.1L265,89.1L262,87.3L259,86.6L255,86.7L251,87.8L246.1,90.1L233,99.7L229,101.9L226,103L221,103.8L215,103.7L209,102.8L205,101.2L204.1,100.1L203.5,98.1L202.6,90.1L201.4,84.1L197,71.1L189.2,53.1L178.3,34.1ZM135,96.1L142,95.6L152,97.1L160,96.1L167,96.4L188,99.3L195.5,101.1L200.1,103.1L201.3,105.1L201.4,110.1L200.3,122.1L198.6,131.1L196.7,137.1L193.8,143.1L190.8,148.1L187.3,152.1L182,156L176,158.3L170,158.7L164,157.5L159,155.6L155,153.4L145,145.7L130.3,138.1L126,135.1L122.7,132.1L119.5,128.1L117,123.1L117,109.7L119.5,105.1L123.4,101.1L129,97.8ZM137.3,99.1L132.1,101.1L127.8,104.1L124.6,108.1L122.9,112.1L122.2,117.1L122.9,122.1L124.9,127.1L127.8,131.1L133.7,136.1L147,144.1L155,150.7L159.2,153.1L164,155.1L170,156.5L176,156.1L181,154.3L186,150.9L189.3,147.1L192,142.1L194.5,135.1L195.6,129.1L195.8,122.1L194.9,115.1L193.2,110.1L190.4,106.1L187,103.5L183,101.7L168,98.6L162,98.1L152,98.7L143,98.3ZM373,143.1L373,148.7L363,152.4L354,156.5L341,163.3L323.7,173.1L311,178.6L302,183.6L298,187L296,190.1L294.8,194.1L294.5,198.1L295.1,204.1L297,209.1L301,214.2L306,218.2L311,220.7L320,223.9L344,229.6L349,231.1L373,243.6L373,247.7L361.1,240.1L348,232.8L320,225.6L312,222.7L306,219.8L300.1,215.1L296.3,210.1L294.2,205.1L293.3,198.1L293.8,193.1L295.2,189.1L298,185.3L302,182L309,177.9L322.4,171.1L337,161.4L349,154.3L359,149.2ZM118,219.5L129,219.8L177,223.9L185.4,225.1L192.5,227.1L212,233.8L232.4,239.1L235,240.3L237,242.1L237.4,243.1L237.4,245.1L234.8,250.1L226,260.1L220.4,268.1L214.3,278.1L208.7,290.1L205.4,290.1L212.1,277.1L217,269.6L227.7,251.1L228.7,248.1L228.7,246.1L226.6,243.1L222,240.7L208,235.7L190,228.1L184,226.2L177,225.4L160,224.5L117,224.5L117,219.5Z" fill="#5095d0" stroke="#5095d0" stroke-width="0.7"/>
<path d="M176,34.1L178.3,34.1L188.2,51.1L194.2,64.1L200.9,82.1L202.5,89.1L203.7,99.1L205,101.2L209,102.8L215,103.7L221,103.8L226,103L229,101.9L233,99.7L243,92.1L247,89.6L252,87.4L256,86.6L260,86.7L263.6,88.1L266.1,90.1L268.7,94.1L269.8,99.1L269.4,105.1L268.1,109.1L265,114.3L261,119L257.3,122.1L244,129.7L236,135.7L233.1,139.1L231.3,142.1L228.3,150.1L226.8,158.1L225.8,170.1L225.7,176.1L226.7,180.1L229,183.1L233,185.4L238,186.8L244,187.2L252,186.4L261,183.9L267,181.1L271,177.6L273.4,174.1L275,170.7L278.7,161.1L282.4,149.1L284.6,144.1L288.3,138.1L296,129.3L298.5,124.1L299.3,119.1L299.2,114.1L295.1,84.1L293.7,63.1L292.2,57.1L287.9,47.1L286,36.1L285.9,34.1L290.7,34.1L291.1,40.1L292,45.1L296.3,58.1L297.3,63.1L296.8,84.1L300.9,113.1L301.2,118.1L300.9,122.1L299.8,126.1L297.9,130.1L289.6,140.1L285.4,147.1L274.8,175.1L272,179.2L268,182.6L262,185.3L253,187.8L245,188.7L238,188.4L232,186.9L228,184.7L225.1,181.1L224.1,177.1L224.9,163.1L226.3,152.1L228.3,144.1L230.6,139.1L233.6,135.1L238,131.4L252.3,123.1L257.7,119.1L263,113.5L266.9,107.1L268.3,101.1L268.2,98.1L267.5,95.1L265,91L261,88.4L256,87.9L249,89.9L243.6,93.1L235,100.1L230,103.5L225,106L214.3,110.1L211,112.2L209,114.3L207.3,117.1L200.6,135.1L192.9,148.1L189.6,152.1L186,155.4L182,158.1L178,159.8L174,160.7L169,160.8L164,159.7L159,158L153,154.9L143,148.3L126.1,140.1L121.5,137.1L117,133.4L117,123.1L118.9,127.1L121,130.1L123.7,133.1L128,136.6L133.8,140.1L144,145.1L153,152.1L157,154.6L162.7,157.1L168,158.5L175,158.5L179,157.4L182,156L188,151.4L192.7,145.1L195.8,139.1L197.8,134.1L200.3,122.1L201.3,112.1L201.4,106.1L200.9,104.1L198.4,102.1L186.9,99.1L167,96.4L160,96.1L152,97.1L143,95.7L138,95.7L131,97.1L124.8,100.1L120.3,104.1L117,109.7L117,99L123,95.3L129,93.3L134,92.5L139,92.4L144,93L152,95L161,93.8L179,95.5L190,94.6L193,93.5L195,91.9L196.5,89.1L197.1,84.1L196,77.1L193.7,69.1L187,53.1L175.3,34.1ZM372,137.8L373,137.2L373,143.1L359,149.2L349,154.3L337,161.4L322.4,171.1L308,178.4L301,182.7L297.3,186.1L295.2,189.1L293.8,193.1L293.3,198.1L293.9,204.1L296,209.6L300,215L305,219.1L311,222.3L319,225.3L344,231.5L349,233.2L361.1,240.1L373,247.7L373,252.3L359.6,242.1L348,234.8L318,226.7L310,223.6L304,220.2L299,215.9L294.8,210.1L292.7,204.1L292.1,198.1L292.6,193.1L294.4,188.1L297,184.6L301,181.1L319.4,170.1L333,159.9L345,152.2L356,145.9ZM118,215L129,215.8L146,218.5L184,223.4L195.6,226.1L217,232.2L238,235.9L244,236.3L252,235.1L253,235.2L253.2,236.1L240.6,250.1L230,259.6L226,264L221.5,270.1L217.8,276.1L214.3,283.1L211.6,290.1L208.7,290.1L214.3,278.1L221.7,266.1L226,260.1L236.1,248.1L237.5,244.1L237,242.1L236.2,241.1L231,238.6L212,233.8L192.5,227.1L185.4,225.1L177,223.9L129,219.8L117,219.5L117,215Z" fill="#519bcc" stroke="#519bcc" stroke-width="0.7"/>
<path d="M172,34.1L175.3,34.1L186,51.2L192.3,65.1L195.2,74.1L197,83.1L196.8,88.1L195,91.9L193,93.5L190,94.6L178,95.5L161,93.8L152,95L142,92.7L134,92.5L129,93.3L125,94.5L121,96.3L117,99L117,91.9L122,90.1L127,89L137,88.7L152,91.4L160,91.4L176,92.8L181,92.4L186,91.2L189,89.7L190.8,88.1L192.3,85.1L192.7,80.1L192,73.1L190.2,66.1L184.3,52.1ZM291,34.1L296.4,34.1L296.4,40.1L297.3,46.1L302.6,63.1L302.5,68.1L299.1,78.1L298.6,84.1L302.7,114.1L302.7,122.1L301.5,127.1L299.7,131.1L290.9,142.1L286,150.6L282,160.3L279,168.4L277.8,173.1L276.4,176.1L273,181L269.2,184.1L262,187.2L253,189.4L245,190.2L237,189.8L231,188.3L227,186.1L224,183L222.5,178.1L222.7,172.1L225.1,148.1L226.6,141.1L228.8,136.1L231.3,133.1L235.2,130.1L250,122.1L255,118.6L261,112.7L265.4,106.1L266.7,101.1L266.3,96.1L264,92.1L260,89.6L257,89.2L254,89.6L250,90.8L246,92.9L233,103.7L221.7,112.1L216,117L211.5,122.1L202.4,138.1L192.7,151.1L186,157.4L182,160.1L179,161.5L175,162.6L170,162.9L166,162.3L160,160.6L126,144.7L117,140L117,133.4L121.5,137.1L126.1,140.1L143,148.3L153,154.9L159,158L165,160L170,160.9L175,160.6L179,159.5L183,157.5L187,154.5L190.5,151.1L193.6,147.1L200.6,135.1L207,117.7L209,114.3L211,112.2L214.3,110.1L225,106L230,103.5L235,100.1L243.6,93.1L248,90.4L255,88L260,88.1L263,89.4L265,91L267.5,95.1L268.2,98.1L268.3,101.1L266.9,107.1L263,113.5L257.7,119.1L252.3,123.1L238,131.4L233.6,135.1L230.6,139.1L228.3,144.1L226.3,152.1L224.9,163.1L224.1,177.1L225.1,181.1L228,184.7L232,186.9L238,188.4L245,188.7L253,187.8L262,185.3L268,182.6L272,179.2L274.8,175.1L285.4,147.1L289.6,140.1L297.9,130.1L299.8,126.1L300.9,122.1L301.2,118.1L300.9,113.1L296.8,84.1L297.3,63.1L296.3,58.1L291.7,44.1L290.9,38.1ZM373,130.6L373,137.2L356,145.9L345,152.2L333,159.9L319.4,170.1L305,178.4L299,182.7L296,185.7L293.9,189.1L292.6,193.1L292.1,198.1L292.7,204.1L294.8,210.1L298.3,215.1L303,219.5L309,223.1L317,226.3L345,233.8L350,235.9L362.5,244.1L373,252.3L373,257.8L360.6,246.1L348,236.9L345,235.7L330,232L316,227.8L309,224.9L303,221.4L298,216.9L293.9,211.1L291.5,205.1L290.8,198.1L291.2,193.1L293,188.1L295.6,184.1L300,180L316.5,169.1L327.4,160.1L334.3,155.1L349,145.4L368,134.1ZM118,210.9L129,212.2L152,216.8L189,222.9L199.6,225.1L218,229.9L236,232.6L243,232.7L255,228.8L262,228.3L265,229.4L265.9,231.1L266,233.1L265,235.2L262.2,238.1L252,245L233,260L229,263.7L224.5,269.1L220.6,275.1L216.4,284.1L214.4,290.1L211.6,290.1L214.3,283.1L217.3,277.1L224,266.5L230,259.6L241.5,249.1L252.4,237.1L253.2,236.1L253,235.2L244,236.3L238,235.9L217,232.2L195.6,226.1L184,223.4L146,218.5L129,215.8L117,215L117,210.8ZM283,268.9L286,268.8L288,269.7L295.4,277.1L298.7,283.1L300.2,290.1L280.7,290.1L278.8,285.1L277.9,276.1L278.6,273.1L279.8,271.1L281,269.9Z" fill="#52a1c7" stroke="#52a1c7" stroke-width="0.7"/>
<path d="M169,34.1L171.9,34.1L184,51.7L189.1,63.1L191.4,70.1L192.6,78.1L192.5,84.1L190.8,88.1L189,89.7L186,91.2L177,92.8L160,91.4L152,91.4L141,89.2L134,88.6L125,89.4L117,91.9L117,85.7L124,84.5L130,84.3L136,84.7L164,89.5L173,90.2L177,90L181,89.2L185,87.4L187,85.8L188.7,82.1L189.3,76.1L188.8,70.1L187.4,65.1L182.4,53.1L168.2,34.1ZM297,34.1L303.4,34.1L302.9,42.1L303.8,49.1L306,55.1L309,58.8L311,59.7L313,59.5L318,56.8L324,55.4L329,55.3L333,55.8L337,57.2L340.7,60.1L342.2,63.1L342.1,66.1L340.3,70.1L337.4,73.1L327.9,80.1L322,83.1L318,84L315,83.6L305,78.4L303,79L302,80.3L301,84.1L301,88.1L304.7,117.1L304.5,122.1L303.5,127.1L300.2,134.1L292.3,144.1L287,153.2L281.9,165.1L280.3,170.1L280,173.2L278.3,177.1L274.9,182.1L271.2,185.1L264,188.2L254,190.8L246,191.6L237,191.2L231,190L226,187.4L222.8,184.1L221.8,182.1L221.1,179.1L221.1,175.1L222.6,156.1L223.1,137.1L224,132.1L225.4,130.1L227,129L241,123.7L250,119.5L255,115.8L260,110.8L263.9,105.1L264.9,102.1L265.2,99.1L264.6,96.1L263.6,94.1L261.6,92.1L259,90.9L256,90.7L251,91.8L246.4,94.1L242,97.5L227.8,112.1L225.7,115.1L223,120.6L221,123.2L212,131.9L193,153.1L185,160.1L179,163.4L175,164.4L171,164.7L167,164.3L162,163.1L156,161.2L148,157.7L117,145.7L117,140L126,144.7L160,160.6L166,162.3L170,162.9L175,162.6L179,161.5L182,160.1L186,157.4L192.7,151.1L202.4,138.1L211.5,122.1L216,117L221.7,112.1L233,103.7L246,92.9L250,90.8L254,89.6L257,89.2L260,89.6L264,92.1L266.3,96.1L266.7,101.1L265.4,106.1L261,112.7L255,118.6L250,122.1L235.2,130.1L231.3,133.1L228.8,136.1L226.6,141.1L225.1,148.1L222.7,172.1L222.5,178.1L224,183L227,186.1L231,188.3L237,189.8L245,190.2L253,189.4L262,187.2L269.2,184.1L273,181L276.4,176.1L277.8,173.1L279,168.4L282,160.3L286.3,150.1L290.9,142.1L299.7,131.1L301.5,127.1L302.6,123.1L303,119.1L302.7,114.1L298.6,84.1L299,78.8L302.3,69.1L302.7,64.1L301.9,60.1L298.4,50.1L297.1,45.1L296.3,37.1L296.4,34.1ZM373,121.8L373,130.6L368,134.1L349,145.4L334,155.3L327.4,160.1L316.5,169.1L303,177.7L298,181.7L294.8,185.1L292.5,189.1L291.2,193.1L290.8,198.1L291.3,204.1L293.3,210.1L297,215.8L301.3,220.1L307,223.9L315,227.4L329,231.7L346,236L350,238.1L361.8,247.1L373,257.8L373,265L367.9,258.1L361.7,251.1L354.3,244.1L347.8,239.1L345,237.8L331,234.2L315,229.2L307.7,226.1L301,221.9L296,217L292,210.6L290,204.3L289.4,198.1L289.8,193.1L291.3,188.1L293.7,184.1L298,179.5L313.8,168.1L327,156.8L366,129.1ZM117.4,207.1L129,209.2L166,217.4L199.2,223.1L219,227.9L231,229.9L238,230.6L242,230.6L256.8,226.1L262,225.4L265,225.5L267,226.2L268.7,228.1L269.6,231.1L269.5,234.1L268,237.4L264,241.7L236,260.2L230,265.3L225.9,270.1L222.7,275.1L218.8,284.1L217,290.1L214.4,290.1L216.4,284.1L220,276.1L223,271.1L226.9,266.1L233,260L252,245L263.3,237.1L265.1,235.1L266,233.1L265.9,231.1L265,229.4L262,228.3L257,228.5L253.8,229.1L245,232.2L241,232.9L226,231.3L217,229.7L200,225.2L190,223.1L152,216.8L129,212.2L117,210.8L117,207ZM283,264.1L287,264.6L290,266L299.6,275.1L303.7,281.1L307.8,290.1L300.2,290.1L299.1,284.1L296.1,278.1L289,270.4L287,269.1L285,268.7L283,268.9L280.7,270.1L279,272.2L278,275.1L277.9,279.1L278.6,284.1L280.7,290.1L275.7,290.1L274.9,287.1L273.9,278.1L274.3,272.1L275.4,269.1L277.6,266.1L280,264.6Z" fill="#54a4c0" stroke="#54a4c0" stroke-width="0.7"/>
<path d="M165,34.1L168.2,34.1L182,52.5L186.3,62.1L188.3,68.1L189.3,75.1L188.7,82.1L188,84.2L186.7,86.1L184,88L181,89.2L174,90.2L164,89.5L133,84.4L125,84.4L117,85.7L117,80.1L123,79.7L130,80L137,80.9L151,83.8L163,87.1L169,88L174,88L178,87.3L181,86.1L183.7,84.1L185.9,80.1L186.7,75.1L186.4,70.1L184.7,64.1L179.8,53.1L164.4,34.1ZM304,34.1L315.3,34.1L314.5,38.1L314.5,41.1L315.5,43.1L317,43.4L331,38.9L341,36.7L361.1,34.1L373,34.1L373,121.8L366,129.1L327,156.8L313.8,168.1L298,179.5L293.7,184.1L291.3,188.1L289.8,193.1L289.4,198.1L290.4,206.1L292.7,212.1L296.9,218.1L302,222.6L308,226.2L315,229.2L331,234.2L346,238.1L350.6,241.1L357.6,247.1L366.2,256.1L373,265L373,276.2L368.5,266.1L362.8,257.1L355.2,248.1L348,241.7L344,239.6L327,234.8L312,229.8L304,225.7L298,221.3L294,216.9L290.7,211.1L288.8,205.1L288.1,199.1L288.2,193.1L289.5,188.1L291.5,184.1L294.9,180.1L300,175.6L311.4,167.1L322.6,157.1L339.4,145.1L350.6,136.1L361.7,126.1L366.5,120.1L369.2,115.1L371.3,109.1L372.4,103.1L372.4,97.1L371.4,92.1L369.1,87.1L366.6,84.1L363,81.6L358,80.1L352,79.9L342,81.6L321,87.2L315,87.3L307,85.5L305,86.3L304,89.1L304,93L306.4,119.1L305.7,125.1L303.9,131.1L301,136.5L293,147.1L287,157.4L283.1,167.1L281.3,176.1L278.5,181.1L275.8,184.1L273,186.1L268.7,188.1L262,190.3L250,192.7L238,192.6L233,191.9L229,190.7L226,189.1L223,186.4L220.9,183.1L219.9,179.1L221,158.1L220.4,148.1L219.5,144.1L218.2,141.1L217,139.7L215,138.7L213,138.8L211,139.4L205,143.3L200,147.6L192.8,155.1L184,162.5L180,164.8L175,166.1L169,166.1L162,164.8L145,158.9L117,150.8L117,145.7L148,157.7L156,161.2L163,163.4L168,164.5L172,164.7L176,164.3L179.8,163.1L186,159.3L193,153.1L212,131.9L221,123.2L223,120.6L225.7,115.1L227.8,112.1L241.4,98.1L246,94.3L250,92.2L255,90.8L259,90.9L261.6,92.1L263.6,94.1L264.6,96.1L265.2,99.1L264.9,102.1L263.9,105.1L260,110.8L255,115.8L250,119.5L241,123.7L227,129L225.4,130.1L224,132.1L223.1,137.1L222.6,156.1L221.1,175.1L221.1,179.1L221.8,182.1L222.8,184.1L226,187.4L231,190L237,191.2L246,191.6L254,190.8L264,188.2L271.2,185.1L274.9,182.1L278.3,177.1L280,173.2L280.3,170.1L281.9,165.1L287,153.2L292.3,144.1L300.2,134.1L303.5,127.1L304.5,122.1L304.7,117.1L301,88.1L301,84.1L302,80.3L303,79L305,78.4L315,83.6L318,84L322,83.1L327.9,80.1L337.4,73.1L340.3,70.1L342.1,66.1L342.2,63.1L340.7,60.1L337,57.2L333,55.8L329,55.3L324,55.4L318,56.8L313,59.5L311,59.7L309,58.8L306,55.1L303.6,48.1L302.9,40.1L303.4,34.1ZM251.4,93.1L247,95.1L243.1,98.1L239.2,102.1L234.4,108.1L232.1,112.1L231,115.1L231.1,118.1L232.3,120.1L234.3,121.1L238,121.2L242,120.4L247,118.7L254,114.3L258,110.5L260.8,107.1L262.5,104.1L263.4,101.1L263.4,98.1L262.3,95.1L260.1,93.1L258,92.3L255,92.2ZM118,204L173,217.3L203,222.1L220,226.3L232,228.3L239,229.1L243,228.8L258,224.2L263,223.4L266,223.6L269,224.9L270.9,227.1L271.9,230.1L271.8,234.1L270.9,237.1L269,240.9L267,243.6L264,246.5L240,259.6L235,262.8L231,266.3L227,271.1L224,276.1L220.9,284.1L219.4,290.1L217,290.1L218.8,284.1L222.7,275.1L225.9,270.1L230,265.3L236,260.2L263,242.4L267,238.7L269,235.5L269.6,233.1L269.5,230.1L268,227L265,225.5L260,225.6L255,226.6L246,229.7L241,230.7L227,229.3L217,227.5L202,223.7L171,218.4L129,209.2L117,207L117,203.7ZM280,261.1L284,261.2L288,262.2L291,263.6L294.4,266.1L304.6,276.1L309,282.1L314,290.1L307.8,290.1L303.7,281.1L299.6,275.1L290,266L287,264.6L283,264.1L280,264.6L278,265.8L276,268L274.9,270.1L274.1,273.1L273.9,277.1L274.7,286.1L275.7,290.1L272.6,290.1L271.2,276.1L272,268.8L273.4,265.1L275,263.1L277,261.8Z" fill="#56a7b8" stroke="#56a7b8" stroke-width="0.7"/>
<path d="M160,34.1L164.4,34.1L177,49.3L181,55.2L185.1,65.1L186.6,72.1L186.2,79.1L185.2,82.1L183.7,84.1L181,86.1L178,87.3L174,88L169,88L163,87.1L150,83.6L135,80.6L126,79.7L117,80.1L117,74.1L120,74.2L129,75.1L140,77.3L150,80L162,84.5L167,85.6L171,85.9L175,85.5L178.7,84.1L181.3,82.1L183.5,78.1L184.1,72.1L182.9,66.1L180,58.9L178,55L174.5,50.1ZM315,35.1L315.3,34.1L361.1,34.1L336,37.6L317,43.4L315.5,43.1L314.5,41.1ZM350,80.1L357,79.9L363,81.6L367,84.4L370.2,89.1L372.1,95.1L372.5,102.1L371,110.1L368.2,117.1L365.8,121.1L362.6,125.1L353,134.1L339.4,145.1L322.6,157.1L311.4,167.1L299,176.4L294,181.1L290.9,185.1L288.8,190.1L288.1,195.1L288.2,201.1L289.6,208.1L292.2,214.1L296,219.3L301.5,224.1L307,227.4L314,230.5L345.4,240.1L349.8,243.1L356.1,249.1L361.3,255.1L365.5,261.1L369,267.1L371.8,273.1L373,276.2L373,290.1L367.1,290.1L367.5,285.1L367.1,279.1L366.2,274.1L364.3,268.1L361.6,262.1L358.7,257.1L355.1,252.1L351,247.4L347.4,244.1L344,241.9L312,231.5L305,228.1L299,224.2L293.5,219.1L290.2,214.1L288,208.1L286.6,200.1L286.3,193.1L286.8,188.1L288.2,184.1L290.4,181.1L295.9,176.1L307.4,167.1L319,156.7L334.1,146.1L341.6,140.1L351.9,130.1L358.1,122.1L360.3,118.1L362,113.1L362.6,108.1L362.3,104.1L361.2,100.1L359,96.3L356,93.3L353,91.5L346,89.2L338,88.7L312,90.8L310,91.2L308.6,92.1L307.2,95.1L306.8,99.1L308,116.1L307.8,122.1L306.8,128.1L304.7,134.1L302,138.9L293,151.7L288,160.3L285.4,167.1L284.2,177.1L282.6,181.1L279.9,184.1L275.3,187.1L270.6,189.1L263,191.5L250,193.9L238,193.9L233,193.2L229,192.1L226,190.7L223,188.3L220.1,184.1L218.9,180.1L219.5,162.1L218.7,152.1L216.7,147.1L215,145.1L213,144.2L209,144.5L205,146.4L201,149.3L184,164.2L180,166.5L176,167.5L171,167.8L165,167L142,160.4L127,157.3L117,156L117,150.8L145,158.9L163,165L170,166.2L176,165.9L181,164.3L186,161L193.9,154.1L201,146.7L207,141.9L212,139L215,138.7L217,139.7L218,140.8L219.1,143.1L220.2,147.1L221,157.1L219.9,179.1L221,183.4L223.6,187.1L226,189.1L230,191.1L234,192.1L240,192.8L246,192.9L252,192.4L265,189.4L270,187.6L274,185.4L276.9,183.1L279.2,180.1L281.7,175.1L283.1,167.1L287,157.4L293,147.1L301,136.5L304,130.8L305.7,125.1L306.4,119.1L304,93L304,89.1L305,86.3L307,85.5L315,87.3L321,87.2L341,81.8ZM252,92.9L255,92.2L258,92.3L260.1,93.1L262.3,95.1L263.4,98.1L263.4,101.1L262.5,104.1L260.8,107.1L258,110.5L254,114.3L247,118.7L242,120.4L238,121.2L234.3,121.1L232.3,120.1L231.1,118.1L231,115.1L232.1,112.1L234.4,108.1L239.2,102.1L244,97.3L248,94.6ZM253.7,94.1L250,95.2L246.5,97.1L243,100.1L239.8,104.1L237.4,108.1L236.4,111.1L236.4,114.1L237.7,116.1L240,117L242,117.1L248,115.6L254,111.8L259,106.5L260.4,104.1L261.4,101.1L261,97.1L260,95.6L258,94.3ZM117,200.1L131,205.1L174,216L186,218.3L205,220.8L221,224.8L233,227L239,227.6L243,227.4L248,226.2L259,222.3L263,221.7L267,221.9L271,223.8L273.4,227.1L274.1,231.1L273.4,236.1L269,248.1L267.8,250.1L266,251.9L264,252.7L254,255.2L247,257.9L238,262.6L232.1,267.1L228.8,271.1L225.9,276.1L223.4,283.1L221.7,290.1L219.4,290.1L220.9,284.1L224,276.1L227,271.1L231.2,266.1L235,262.8L240,259.6L263,247.2L266,244.7L268,242.4L270.9,237.1L271.9,233.1L271.3,228.1L269.2,225.1L266,223.6L261,223.6L256,224.7L245,228.4L241,229L236,228.8L227,227.6L203,222.1L173,217.3L123,205.4L117,203.7ZM273,258.1L277,257.6L284,258.6L289,260.1L294,262.8L299.4,267.1L305.9,273.1L320.8,290.1L314,290.1L305.4,277.1L301.9,273.1L295.5,267.1L292,264.3L289,262.6L285,261.4L281,261L278,261.4L276,262.3L274,264.2L272.5,267.1L271.5,271.1L271.2,275.1L272.6,290.1L270,290.1L268.9,276.1L269.2,267.1L270.3,261.1L271.5,259.1Z" fill="#58abb1" stroke="#58abb1" stroke-width="0.7"/>
<path d="M154,34.1L159.9,34.1L174,49.5L177.5,54.1L179.6,58.1L183.2,67.1L184.1,74.1L183.7,77.1L182.7,80.1L181,82.4L178,84.5L173,85.8L166,85.5L161,84.2L149,79.7L137,76.6L126,74.7L117,74.1L117,67.2L129,69.4L143,73.5L151,76.4L161,81.5L166,83.2L170,83.6L174,83.2L176.7,82.1L179,80.2L181,76.1L181.3,71.1L180,66L176.5,58.1L173.3,53.1L169,48.1ZM332,89.1L341,88.7L348,89.7L354,92L358,95.1L361,99.7L362.5,105.1L362.4,111.1L360.7,117.1L358.7,121.1L355.3,126.1L350,132.1L343.9,138.1L335.5,145.1L318.5,157.1L307.4,167.1L293.5,178.1L289.5,182.1L287.3,186.1L286.5,190.1L286.4,197.1L287.3,205.1L289.3,212.1L292,217.1L296,221.7L301,225.7L307,229.2L314,232.3L344,241.9L347.4,244.1L351.7,248.1L355.9,253.1L359.3,258.1L362.1,263.1L364.6,269.1L366.4,275.1L367.3,280.1L367.5,285.1L367.1,290.1L355.7,290.1L358,286.4L359.4,282.1L360,277.1L359.7,272.1L358.7,267.1L356.6,261.1L353.4,255.1L349.8,250.1L345.9,246.1L342,243.7L310,232.6L302,228.3L294,222.5L290.1,218.1L287.6,213.1L286.1,207.1L283.9,193.1L283,190.5L282,189.3L280,188.7L278,188.9L259,193.9L251,195.1L245,195.5L237,195.2L231,194.2L227,192.8L223,190.1L220,186.3L218,181.5L217.6,177.1L218.2,165.1L217.7,158.1L216,152.1L214.7,150.1L213,148.7L211,148L209,148L204,149.8L200,152.6L184,166L180,168.1L176,169.1L171,169.2L165,168.5L146,163.6L135,161.8L125,160.9L117,161.5L117,156L119,156.1L128,157.4L143,160.7L165,167L171,167.8L177,167.3L181,166L185,163.5L204,147.1L209,144.5L213,144.2L215,145.1L216.7,147.1L218.7,152.1L219.5,162.1L218.9,180.1L220.6,185.1L224,189.3L228,191.7L232,193L237,193.8L244,194.2L256,193.1L269,189.7L277.1,186.1L279.9,184.1L282.6,181.1L284.2,177.1L285.4,167.1L288,160.3L294,150.1L302.5,138.1L305.1,133.1L307,127.1L307.9,121.1L308,116.1L306.8,100.1L307,96L308,92.8L309,91.7L311,90.9ZM315.7,94.1L312,95.6L310.7,97.1L309.8,99.1L309.1,105.1L309.8,120.1L308.2,130.1L306.6,135.1L304,140.6L293,157.5L290,163.3L288.9,167.1L288.8,170.1L289.3,172.1L290,173.2L291,173.6L294,172.9L298.4,170.1L303.6,166.1L314.9,156.1L330.2,146.1L337.8,140.1L342.9,135.1L347.9,129.1L351.6,123.1L353.7,118.1L354.7,112.1L353.8,106.1L351,101.2L347,97.6L341,94.8L334,93.4L325,93.2ZM254,94L258,94.3L260,95.6L261,97.1L261.5,99.1L261.2,102.1L258.5,107.1L254,111.8L248,115.6L242,117.1L240,117L237.7,116.1L236.4,114.1L236.4,111.1L237.9,107.1L240.5,103.1L244,99.1L247,96.8L250.2,95.1ZM253.9,96.1L251,96.7L248,98L245.3,100.1L242.7,103.1L241.1,106.1L240.4,109.1L240.7,111.1L242,112.7L245,113.4L249,112.4L253,110L256.7,106.1L258.8,102.1L258.9,99.1L258,97.5L257,96.7ZM117.1,196.1L124.3,200.1L131,202.8L146,206.4L174,214.5L188,217.3L206,219.2L221,223L233,225.5L240,226.2L245,225.7L250,224.3L258,221L263,220L267,220L270.8,221.1L273,222.5L274.6,224.1L276.1,228.1L276,233.1L273.9,246.1L274.1,249.1L275.9,252.1L279,254.1L291,258.6L297,262.1L304.5,268.1L324,285.3L330.3,290.1L320.8,290.1L306.9,274.1L295,263.5L291,261L287,259.4L281,258L276,257.6L273,258.1L271.5,259.1L270.3,261.1L269.6,264.1L268.9,275.1L270,290.1L267.5,290.1L266.2,268.1L265,262.4L264,260.6L262,259L260,258.2L257,257.9L252,258.5L246,260.4L239,263.7L234,267.2L230.6,271.1L227.8,276.1L225.5,283.1L224.1,290.1L221.7,290.1L223.4,283.1L225.9,276.1L229.5,270.1L233.2,266.1L238,262.6L246,258.3L254,255.2L265,252.4L268,249.9L272,240.9L273.8,234.1L273.7,228.1L272.9,226.1L271.4,224.1L268,222.2L263,221.7L258,222.6L248,226.2L243,227.4L237,227.5L227.8,226.1L205,220.8L187,218.5L176,216.4L131.2,205.1L117,200.1Z" fill="#5aaeaa" stroke="#5aaeaa" stroke-width="0.7"/>
<path d="M145,34.1L153.8,34.1L167,46L174.7,55.1L179.7,65.1L181.3,72.1L181.2,75.1L180.4,78.1L179,80.2L177,81.9L172,83.5L165.7,83.1L160.1,81.1L151,76.4L143,73.5L129,69.4L117,67.2L117,58.1L130,62.5L150,71.2L154,73.3L160.4,78.1L165,80.3L169,81.1L172,81L175,79.8L176.8,78.1L178.3,74.1L178,70.1L175,62.8L170.6,55.1L167.3,51.1L163,47.2L156,41.9L144,34.1ZM316,94L325,93.2L334,93.4L341,94.8L347,97.6L351,101.2L353.8,106.1L354.7,112.1L353.7,118.1L351.6,123.1L347.9,129.1L342.9,135.1L337.8,140.1L330.2,146.1L314.9,156.1L303.6,166.1L298.4,170.1L294,172.9L291,173.6L290,173.2L289.3,172.1L288.8,170.1L288.9,167.1L290,163.3L293,157.5L304,140.6L306.6,135.1L308.2,130.1L309.8,120.1L309.1,105.1L309.8,99.1L310.7,97.1L312,95.6ZM318.4,97.1L314.3,99.1L313,100.6L312,103.1L311.5,107.1L311.9,119.1L310.7,128.1L308,138.9L302.1,155.1L302,157.3L304,157L323,147.6L332.9,141.1L338.2,136.1L342.2,131.1L345.7,125.1L347.5,120.1L348.1,115.1L347.3,110.1L345.4,106.1L341.7,102.1L336.8,99.1L331,97.2L325,96.5ZM254,96.1L257,96.7L258,97.5L258.9,99.1L258.8,102.1L256.7,106.1L253,110L249,112.4L245,113.4L242,112.7L240.7,111.1L240.4,109.1L241.1,106.1L242.7,103.1L245.3,100.1L248,98L251,96.7ZM251.7,99.1L248,100.5L245.4,103.1L244.5,105.1L244.3,107.1L245.6,109.1L248,109.5L250,108.8L252.5,107.1L254.3,105.1L255.5,102.1L255,100.1L254,99.3ZM209,148L212,148.3L214,149.4L215.4,151.1L216.8,154.1L217.7,158.1L218.2,164.1L217.6,177.1L217.9,181.1L220,186.3L222,189.1L224.2,191.1L228,193.2L233,194.6L240,195.4L247,195.5L260,193.7L278,188.9L280,188.7L281.7,189.1L283,190.5L283.9,193.1L286.1,207.1L287.6,213.1L290.1,218.1L294,222.5L301,227.7L309,232.1L318,235.6L340.7,243.1L344,244.8L347,247.1L351.4,252.1L355.1,258.1L357.8,264.1L359.4,270.1L360,276.1L359.6,281.1L358.2,286.1L355.7,290.1L330.3,290.1L324,285.3L304.5,268.1L297,262.1L291,258.6L279,254.1L276,252.2L274.5,250.1L273.9,247.1L276.1,232.1L275.9,227.1L275.2,225.1L273.7,223.1L270,220.8L266,219.9L261,220.3L257,221.4L249,224.7L243,226L239,226.2L233,225.5L221,223L206,219.2L188,217.3L174,214.5L146,206.4L131,202.8L124.3,200.1L117,196L117,190.6L123.3,196.1L132,200.8L145,203.8L173,212.8L188,215.9L207,217.7L223,221.8L236,224.5L242,224.8L247,224L250,223.1L257,219.8L263,218.3L268,218.2L272,219.1L275,220.6L276.9,222.1L278.6,225.1L278.7,229.1L277.2,239.1L277,244.1L278,248.1L280.5,251.1L298,259.9L315,272.7L325,279.4L331,282.7L337,284.7L342,284.9L346,283.8L349.6,281.1L351.7,278.1L352.8,275.1L353.4,271.1L353.3,267.1L351.3,259.1L349.3,255.1L346.7,251.1L343,247.5L339,245.1L315,236.6L306,232.8L295.1,226.1L289.8,222.1L287.3,219.1L286,216.4L282.5,198.1L281.4,195.1L279.7,193.1L277,192.2L274,192.2L255,196L243,196.9L231,195.6L226.4,194.1L223,191.9L219.8,188.1L217.1,182.1L216.6,178.1L216.9,166.1L216.2,160.1L214,154.2L211,151.6L207,151.3L203,152.9L194,159.2L184,167.7L181,169.4L178,170.3L173,170.7L167,170.3L146,165.7L135,164.7L125,165.2L121,166.3L117,168.1L117,161.5L125,160.9L133,161.5L143,163L159,167.2L167,168.9L173,169.2L178,168.7L181,167.7L184,166L203,150.4L206,148.8ZM255,258L259,258L262,259L264,260.6L265,262.4L266.2,268.1L267.5,290.1L265,290.1L264,272.3L262.5,266.1L261,263.8L259,262.2L257,261.4L254,261L249,261.5L244,263.1L238,266L234,269.1L231.1,273.1L229.4,277.1L227.5,284.1L226.7,290.1L224.1,290.1L225.3,284.1L227.4,277.1L229.9,272.1L233,268.2L237,265L243,261.7L249,259.3Z" fill="#5db1a1" stroke="#5db1a1" stroke-width="0.7"/>
<path d="M118,34.1L144,34.1L160,44.8L165,48.9L169,53L174,60.8L177,67.1L178.2,71.1L178.1,75.1L176.8,78.1L175,79.8L172,81L169,81.1L165,80.3L160.4,78.1L154,73.3L150,71.2L130,62.5L117,58.1L117,34.1ZM134.9,45.1L133.7,46.1L133.4,47.1L133.7,49.1L135.4,52.1L137.8,55.1L145.7,62.1L157.9,70.1L162,75.3L165,77L169,78L172,77.7L174,76.1L174.6,73.1L173.7,70.1L170.8,65.1L167.7,58.1L166,55.7L163,52.8L156,48.5L148,45.6L140,44.3L137,44.5ZM319,97L325,96.5L331,97.2L337,99.2L342,102.3L345.4,106.1L347.6,111.1L348.1,116.1L347.2,121.1L345.2,126.1L341.5,132.1L337.2,137.1L332.9,141.1L323,147.6L304,157L302,157.3L302.1,155.1L308,138.9L310.7,128.1L311.9,119.1L311.5,107.1L312,103.1L313,100.6L314.3,99.1L316,97.9ZM318.5,101.1L315.9,103.1L314.3,107.1L314.2,119.1L311.5,139.1L311.6,142.1L312.2,144.1L314,145.7L316,146.1L320,145.5L325,143.4L329.9,140.1L334,136.5L337.6,132.1L339.9,128.1L341.7,123.1L342.4,119.1L342.1,115.1L340.7,111.1L338.1,107.1L334.8,104.1L331,101.8L326,100.3L322,100.2ZM252,99.1L254,99.3L255,100.1L255.4,101.1L255.3,103.1L254.3,105.1L252.5,107.1L250,108.8L248,109.5L245.6,109.1L244.3,107.1L244.5,105.1L245.4,103.1L248,100.5ZM205,151.9L208,151.2L211,151.6L213.1,153.1L215,156.1L216.2,160.1L216.9,165.1L216.6,178.1L217.1,182.1L220,188.4L224,192.7L228,194.8L232,195.9L244,196.9L256,195.8L274,192.2L277,192.2L279,192.7L281,194.5L282.2,197.1L286.3,217.1L288,220.1L291,223.1L302,230.5L308,233.8L338,244.7L341,246.1L344,248.3L347.4,252.1L349.9,256.1L352,261.1L353,265.1L353.5,270.1L353,274.1L351.7,278.1L349.6,281.1L346,283.8L342,284.9L337,284.7L331,282.7L325,279.4L315,272.7L298,259.9L280.5,251.1L278,248.1L277,244.1L277.2,239.1L278.7,229.1L278.6,225.1L276.9,222.1L275,220.6L272,219.1L267,218.1L262,218.5L257,219.8L248,223.8L243,224.7L239,224.8L228.8,223.1L207,217.7L193,216.6L182,214.9L171,212.2L144,203.5L132,200.8L123.3,196.1L117,190.6L117,168.1L119,167L123,165.7L127,164.9L137,164.8L146,165.7L167,170.3L173,170.7L178,170.3L181,169.4L184,167.7L195,158.4L201,154.1ZM206.8,154.1L204,154.8L199,157.5L193,161.7L184.6,169.1L182,170.6L179,171.6L173,172.1L167,171.8L143,167.6L134,167.9L127.9,169.1L123,171.6L120,175.1L119.2,177.1L118.7,180.1L119.7,185.1L121.7,189.1L124.1,192.1L128.8,196.1L133,198.7L135,199.4L143,200.7L171,210.8L182,213.7L194,215.4L207.5,216.1L233,222.4L240,223.4L244,223.3L248,222.5L251,221.3L256,218.4L263,216.5L269,216.1L278,217.5L280,217.1L281,216.2L281.8,214.1L282.1,210.1L281.2,202.1L279,197.2L276.1,195.1L271,194.7L253,197.8L242,198.3L235,197.8L230,197L226,195.6L223,193.7L221,191.8L219,188.9L216.1,182.1L215.7,179.1L215.7,167.1L214,159.7L212.7,157.1L211,155.2L209,154.2ZM283.9,226.1L281,231.6L280,235.1L279.5,239.1L280.2,245.1L281.1,247.1L283,249.3L300,258.2L314,267.9L329,275L334,276.3L338,276.3L342,275L345,272.2L346.2,270.1L347,267.1L347.2,264.1L346.7,260.1L344.2,254.1L342,251.1L339.8,249.1L335,246.5L307,235.7L296,229.3L290,226.4L286,225.3ZM252,261.1L256,261.2L258.8,262.1L261,263.8L262.5,266.1L264,272.3L265,290.1L262.4,290.1L261.7,274.1L261.1,271.1L260,268.2L257,265.1L254,264L251,263.6L247,264.1L243,265.4L238,267.9L235,270.3L232.9,273.1L231.4,277.1L229.8,285.1L229.4,290.1L226.7,290.1L227.5,284.1L229.4,277.1L231.1,273.1L233.1,270.1L237,266.7L242,263.9L247,262Z" fill="#61b398" stroke="#61b398" stroke-width="0.7"/>
<path d="M135,45L138,44.3L141,44.4L149,45.9L157,49L163,52.8L166,55.7L167.7,58.1L170.8,65.1L173.7,70.1L174.6,73.1L174,76.1L172,77.7L169,78L165,77L162,75.3L157.9,70.1L145.7,62.1L137,54.1L134.7,51.1L133.4,48.1L133.7,46.1ZM158,59.1L157,60.8L157.5,63.1L163,71.1L164,71.4L165.3,70.1L165.5,68.1L163.8,62.1L163,60.9L161,59.4ZM319,100.9L323,100.1L327,100.5L331,101.8L335,104.2L338.1,107.1L340.7,111.1L342.1,115.1L342.4,119.1L341.7,123.1L339.9,128.1L337.6,132.1L334,136.5L329.9,140.1L325,143.4L320,145.5L316,146.1L314,145.7L312.2,144.1L311.6,142.1L311.5,139.1L314.2,119.1L314.3,107.1L315.9,103.1ZM320.8,105.1L319,106.2L317.8,108.1L317.5,116.1L315.9,126.1L315.5,132.1L315.6,136.1L316.5,139.1L318,140.6L320,141.1L323,140.5L326,139L332,133.9L334.2,131.1L335.7,128.1L337.2,121.1L336.9,118.1L335.9,115.1L331.9,109.1L329,106.7L326,105L323,104.6ZM207,154.1L209,154.2L211,155.2L212.7,157.1L214,159.7L215.7,167.1L215.7,179.1L216.1,182.1L219,188.9L221,191.8L223,193.7L226,195.6L230,197L235,197.8L242,198.3L253,197.8L271,194.7L276.1,195.1L279,197.2L281.2,202.1L282.1,210.1L281.8,214.1L281,216.2L280,217.1L278,217.5L269,216.1L263,216.5L256,218.4L251,221.3L248,222.5L244,223.3L240,223.4L233,222.4L207.5,216.1L194,215.4L182,213.7L171,210.8L143,200.7L135,199.4L133,198.7L128.8,196.1L124.1,192.1L121.7,189.1L119.7,185.1L118.7,180.1L119.2,177.1L120,175.1L123,171.6L127.9,169.1L134,167.9L143,167.6L167,171.8L173,172.1L179,171.6L182,170.6L184.6,169.1L193,161.7L199,157.5L204,154.8ZM204.8,157.1L200,159L195,161.9L184.1,171.1L179,173L168,173.4L145,170.3L139,170.7L132.8,172.1L129,174.1L127.1,176.1L126.1,178.1L125.3,182.1L126.2,187.1L129.6,192.1L135,196.5L140,196.9L142,197.5L174,210.5L181,212.3L190,213.7L209,214.7L237,221.6L243,222L248,221.2L250.5,220.1L255,217L259,215.4L266,213.7L275,213.3L277,212.4L278,211.3L279.1,207.1L278.2,202.1L276,198.9L273,197.3L269,197.1L250,199.7L241,199.9L230,198.7L226,197.4L223,195.6L219,191.1L215.5,183.1L214.7,179.1L214.3,167.1L212.7,162.1L211,159.2L209,157.4L207,156.9ZM284,226L286,225.3L290,226.4L296,229.3L307,235.7L335,246.5L339.8,249.1L342,251.1L344.2,254.1L346.7,260.1L347.2,264.1L347,267.1L346.2,270.1L345,272.2L342,275L338,276.3L334,276.3L329,275L314,267.9L300,258.2L283,249.3L281.1,247.1L280.2,245.1L279.5,239.1L280,235.1L281,231.6L282.5,228.1ZM286.1,231.1L284,232.9L283,234.6L282.3,239.1L282.7,242.1L283.7,245.1L285,246.9L286.6,248.1L303,256.5L316,264.5L319,264.9L328,267.8L332,268.3L336,267.5L339,265.1L340.4,261.1L340,257.1L337.9,253.1L335,250.5L307,238.6L295,231.8L290,230.5ZM247,264.1L251,263.6L255,264.2L258,265.8L260,268.1L261,270.6L261.7,274.1L262.4,290.1L259.4,290.1L259.8,287.1L259.2,277.1L257.9,271.1L256.5,269.1L255,267.9L252,266.7L249,266.3L245,266.9L241.6,268.1L238,270L235.7,272.1L234.6,274.1L233.7,277.1L232.5,287.1L232.6,290.1L229.4,290.1L231.2,278.1L233.5,272.1L235.2,270.1L238,267.9L243,265.4Z" fill="#65b68f" stroke="#65b68f" stroke-width="0.7"/>
<path d="M159,58.9L162,60L164,62.5L165.2,66.1L165.5,69.1L165,70.7L164,71.4L163,71.1L157.5,63.1L157.1,60.1L158,59.1ZM321,105L324,104.6L326,105L329,106.7L331.9,109.1L335.9,115.1L336.9,118.1L337.2,121.1L335.7,128.1L334.2,131.1L332,133.9L326,139L323,140.5L320,141.1L318,140.6L316.5,139.1L315.6,136.1L315.5,132.1L315.9,126.1L317.5,116.1L317.8,108.1L319,106.2ZM324.5,114.1L323,115.4L322,117.4L320.8,121.1L319.9,126.1L320.3,131.1L321.4,133.1L323,133.9L326,133.1L329,130.4L330.9,127.1L331.7,124.1L331.4,120.1L330,117.1L327,114.3ZM205,157.1L207,156.9L209,157.4L211,159.2L212.7,162.1L214.3,167.1L214.7,179.1L215.5,183.1L219,191.1L223,195.6L226,197.4L230,198.7L241,199.9L250,199.7L269,197.1L273,197.3L276,198.9L278.2,202.1L279.1,207.1L278,211.3L277,212.4L275,213.3L266,213.7L259,215.4L255,217L250.5,220.1L248,221.2L243,222L237,221.6L209,214.7L190,213.7L181,212.3L174,210.5L142,197.5L140,196.9L135,196.5L129.6,192.1L126.2,187.1L125.3,182.1L126.1,178.1L127.1,176.1L129,174.1L132.8,172.1L139,170.7L145,170.3L168,173.4L179,173L182,172.1L185,170.5L193.5,163.1L197,160.7L201,158.5ZM202.8,160.1L196,163.2L185,172.1L180,174.1L176,174.7L169,175L146,173.3L142,173.8L138,175L134.5,177.1L132.3,180.1L131.6,183.1L132.3,187.1L134.2,190.1L136.6,192.1L143,194.5L159.5,203.1L175,209.7L182,211.4L190,212.5L196,212.9L206,212.8L213,213.6L223,215.7L239,220.1L244,220.2L248,219.4L257,213.7L263,211.4L271.9,209.1L274,207.2L274.4,205.1L273.8,203.1L272,201.3L270,200.5L267,200.4L249,201.8L239,201.7L230,200.8L224,198.5L221,195.9L219,193.4L216,187.1L214,180.1L212.9,168.1L211.4,164.1L210,162L208,160.3L206,159.7ZM287,230.7L291,230.7L295,231.8L307,238.6L335,250.5L337.9,253.1L340,257.1L340.4,261.1L339,265.1L336,267.5L332,268.3L328,267.8L319,264.9L316,264.5L303,256.5L286.6,248.1L284.3,246.1L283.3,244.1L282.3,238.1L282.8,235.1L283.9,233.1L285,231.9ZM288.6,236.1L287,238.1L286.8,240.1L287.3,242.1L289.7,245.1L294.7,248.1L316,257.6L319,258.1L323.8,258.1L326,257.5L327,256.5L326.9,255.1L326.2,254.1L321,250.1L297,237.1L295,236.1L292,235.4ZM245,266.9L249,266.3L252,266.7L255.3,268.1L257.3,270.1L258.3,272.1L259.1,276.1L259.8,287.1L259.4,290.1L255.2,290.1L256,286.1L255.9,281.1L255.3,276.1L254.2,273.1L253,271.7L251,270.4L247,269.7L241.4,271.1L238,273.6L236.8,276.1L236.4,279.1L236.3,286.1L236.8,290.1L232.6,290.1L232.5,287.1L233.5,278.1L235,273.1L238,270Z" fill="#69b886" stroke="#69b886" stroke-width="0.7"/>
<path d="M325,113.9L328,114.9L330,117.1L331.4,120.1L331.7,124.1L330.9,127.1L329,130.4L326,133.1L323,133.9L321.4,133.1L320.3,131.1L319.8,128.1L320,125.1L322,117.4L323.3,115.1ZM203,160.1L206,159.7L208,160.3L210,162L211.4,164.1L212.9,168.1L214,180.1L216,187.1L219,193.4L221,195.9L224,198.5L230,200.8L239,201.7L249,201.8L267,200.4L270,200.5L272,201.3L273.8,203.1L274.4,205.1L274,207.2L271.9,209.1L263,211.4L257,213.7L248,219.4L244,220.2L239,220.1L223,215.7L213,213.6L206,212.8L196,212.9L190,212.5L182,211.4L175,209.7L159.5,203.1L143,194.5L136.6,192.1L134.2,190.1L132.3,187.1L131.6,183.1L132.3,180.1L134.5,177.1L138,175L142,173.8L146,173.3L169,175L176,174.7L180,174.1L183,173.1L186,171.4L196,163.2ZM200.6,163.1L196,165.3L186,173L180,175.3L171,176.4L151,176.5L145,177.6L142.1,179.1L140.2,181.1L139.4,183.1L139.8,186.1L141.1,188.1L143.3,190.1L157.5,200.1L172,207.4L181,210.2L194,211.6L208,211.4L221,212.3L227,213.6L237,217.3L243,218.1L246,217.7L249,216.2L258.1,208.1L258.5,207.1L258,206.1L255.3,205.1L230,203.7L226,202.5L223,200.6L219,195.9L216,189.9L213.4,181.1L211.4,169.1L210.2,166.1L208,163.6L206,162.6L204,162.4ZM289,235.9L292,235.4L295,236.1L317.6,248.1L325.2,253.1L326.9,255.1L327.1,256.1L326.7,257.1L325,257.9L322,258.2L318,258L315,257.3L292.8,247.1L288.6,244.1L287,241.3L287,238.1ZM245,269.9L248,269.7L251,270.4L253.4,272.1L254.7,274.1L255.5,277.1L256,283.1L255.9,287.1L255.2,290.1L236.8,290.1L236.3,282.1L237.1,275.1L239.6,272.1ZM243.3,279.1L242.4,282.1L243,285.1L245,287.3L247,287.3L248.3,286.1L249.1,284.1L249.3,282.1L248.7,280.1L248,279L246,278.2Z" fill="#6eba7e" stroke="#6eba7e" stroke-width="0.7"/>
<path d="M201,163L204,162.4L206,162.6L208,163.6L210.2,166.1L211.4,169.1L213.4,181.1L216,189.9L219,195.9L223,200.6L226,202.5L230,203.7L255.3,205.1L258,206.1L258.5,207.1L258.1,208.1L249,216.2L246,217.7L243,218.1L237,217.3L227,213.6L221,212.3L208,211.4L194,211.6L181,210.2L172,207.4L157.5,200.1L143.3,190.1L141.1,188.1L139.8,186.1L139.4,183.1L140.2,181.1L142.1,179.1L145,177.6L151,176.5L171,176.4L180,175.3L186,173L196,165.3ZM202.7,165.1L200,165.7L197,167L188,173.3L182,176.1L175,177.5L158,178.9L152,180.3L150,181.4L148.3,183.1L147.7,185.1L148.4,188.1L152.2,193.1L159.3,199.1L169.8,205.1L178,208.5L185,209.7L196,210.4L213,209.5L219.6,208.1L221,207.1L221.6,205.1L215.3,191.1L210,170.2L208.9,168.1L207,166.2L205,165.3ZM240,208.1L235.8,209.1L234.9,210.1L235.1,211.1L237.5,213.1L241,214.3L244.2,214.1L247,212.1L247.3,210.1L246.5,209.1L244,208.3ZM244,278.6L247,278.4L248.1,279.1L249,280.7L249,284.7L248,286.5L247,287.3L245,287.3L243,285.1L242.5,281.1L243,279.5Z" fill="#74bb75" stroke="#74bb75" stroke-width="0.7"/>
<path d="M203,165.1L205,165.3L207,166.2L208.9,168.1L210,170.2L215.3,191.1L221.6,205.1L221,207.1L219.6,208.1L213,209.5L196,210.4L185,209.7L178,208.5L169.8,205.1L159.3,199.1L152.2,193.1L149.6,190.1L148,187.1L147.7,185.1L148.3,183.1L150,181.4L152,180.3L158,178.9L175,177.5L182,176.1L188,173.3L197,167L200,165.7ZM200.2,168.1L196,169.8L187.7,175.1L183,177L176,178.8L163,180.6L158,182.1L155.1,184.1L154,186.1L153.9,188.1L154.9,191.1L158.7,196.1L163.7,200.1L172.3,205.1L179,207.7L186,208.7L196,209.1L208.8,208.1L214,206.7L216,205.3L216.8,204.1L217,201.1L209.3,173.1L208,170.5L206,168.6L203,167.8ZM240,208.1L244,208.3L246.5,209.1L247.3,210.1L247,212.1L244.2,214.1L241,214.3L237.5,213.1L235.1,211.1L234.9,210.1L235.8,209.1Z" fill="#7abc6d" stroke="#7abc6d" stroke-width="0.7"/>
<path d="M201,167.9L204,167.9L206,168.6L208,170.5L209.3,173.1L217,201.1L216.8,204.1L216,205.3L214,206.7L208.8,208.1L196,209.1L186,208.7L179,207.7L172.3,205.1L163.7,200.1L158.7,196.1L154.9,191.1L153.9,188.1L154,186.1L155.1,184.1L158,182.1L163,180.6L176,178.8L183,177L188,174.9L197,169.3ZM198.6,171.1L185,177.7L177,180L166.4,182.1L161.6,184.1L159.3,186.1L158.4,188.1L158.4,190.1L159.5,193.1L162.7,197.1L166.5,200.1L174.8,205.1L180,206.9L188,207.7L197,207.7L207,206.6L211.7,205.1L214,202.6L214.6,199.1L212,185.1L211,181.6L208,174.1L206,171.6L203,170.6Z" fill="#81bd64" stroke="#81bd64" stroke-width="0.7"/>
<path d="M199,171L203,170.6L205,171.1L206.5,172.1L208,174.1L211,181.6L212,185.1L214.6,199.1L214,202.6L211.7,205.1L207,206.6L197,207.7L188,207.7L180,206.9L174.8,205.1L166.5,200.1L162.7,197.1L159.5,193.1L158.4,190.1L158.4,188.1L159.3,186.1L161.6,184.1L166.4,182.1L177,180L185,177.7L189,176L196,172.1ZM196.3,174.1L187,178.4L177,181.6L169,183.6L165.7,185.1L163.3,187.1L162.3,189.1L162.3,192.1L163.7,195.1L166.6,198.1L173.6,203.1L177.6,205.1L181,206L189,206.6L198,206.3L206,205.1L210,203.5L211.9,201.1L212.6,197.1L211.1,185.1L210,181.7L206,174.6L201,173.5Z" fill="#87be5b" stroke="#87be5b" stroke-width="0.7"/>
<path d="M197,173.9L201,173.5L206,174.6L210,181.7L211.1,185.1L212.6,197.1L211.9,201.1L210,203.5L206,205.1L198,206.3L189,206.6L181,206L177.6,205.1L173.6,203.1L166.6,198.1L163.7,195.1L162.3,192.1L162.3,189.1L163.3,187.1L165.7,185.1L169,183.6L177,181.6L187,178.4ZM197.8,176.1L169.7,186.1L167.2,188.1L166.1,190.1L165.9,192.1L167,195.1L169.8,198.1L174.8,202.1L178,203.8L181,204.7L188,205.2L196,204.9L203,203.9L207.7,202.1L209.6,200.1L210.6,197.1L209.7,184.1L208,180.9L205,177.6L202,176.3Z" fill="#8ebd54" stroke="#8ebd54" stroke-width="0.7"/>
<path d="M198,176.1L202,176.3L205,177.6L208,180.9L209.7,184.1L210.6,197.1L209.6,200.1L207.7,202.1L203,203.9L196,204.9L188,205.2L181,204.7L178,203.8L174.8,202.1L169.8,198.1L167,195.1L165.9,192.1L166.1,190.1L167.2,188.1L169.7,186.1ZM195,179.1L181,184.1L172.5,188.1L170.6,190.1L169.9,192.1L170.2,194.1L171.3,196.1L174,199.1L176.6,201.1L180,202.7L183,203.3L190,203.6L197,203.1L202,202.1L206,200.2L207.8,198.1L208.7,195.1L208.8,187.1L208,183.9L206,181.2L203,179.2L199,178.4Z" fill="#96bc4d" stroke="#96bc4d" stroke-width="0.7"/>
<path d="M196,178.8L200,178.5L203,179.2L206,181.2L208,183.9L208.8,187.1L208.7,195.1L207.8,198.1L206,200.2L202,202.1L197,203.1L190,203.6L183,203.3L180,202.7L176.6,201.1L174,199.1L171.3,196.1L170.2,194.1L169.9,192.1L170.6,190.1L172.5,188.1L181,184.1ZM196.5,181.1L184.3,185.1L176.7,189.1L174.8,191.1L174.2,193.1L174.6,195.1L175.7,197.1L177.7,199.1L180,200.4L186,201.7L197,201.1L201,200.1L204,198.5L205.9,196.1L206.8,193.1L207,188.1L206.3,185.1L204.8,183.1L202,181.5L199,180.9Z" fill="#9eba46" stroke="#9eba46" stroke-width="0.7"/>
<path d="M197,181L200,181L203,181.9L205,183.3L206.3,185.1L207,188.1L206.8,193.1L205.9,196.1L204,198.5L201,200.1L197,201.1L186,201.7L180,200.4L177.7,199.1L175.7,197.1L174.6,195.1L174.2,193.1L174.8,191.1L176.7,189.1L184.3,185.1ZM194.6,184.1L186.2,187.1L181.2,190.1L179.1,193.1L179.3,195.1L180,196.4L182,198L184,198.8L190,199.4L197,198.7L200,197.7L202,196.4L203.8,194.1L204.4,192.1L204.6,189.1L203.6,186.1L202,184.6L200,183.9Z" fill="#a5b93e" stroke="#a5b93e" stroke-width="0.7"/>
<path d="M195,184L198,183.6L200.9,184.1L202.7,185.1L204,186.7L204.6,189.1L204.4,192.1L203.8,194.1L202,196.4L200,197.7L197,198.7L189,199.4L183,198.5L179.8,196.1L179.1,193.1L181.2,190.1L186.2,187.1ZM192.9,188.1L187.7,191.1L186.6,193.1L187,194.2L188.1,195.1L190,195.6L194,195.8L197.1,195.1L200,193.1L200.7,190.1L199.5,188.1L197,187.4Z" fill="#adb739" stroke="#adb739" stroke-width="0.7"/>
<path d="M193,188.1L197,187.4L199.5,188.1L200.7,190.1L200,193.1L197.1,195.1L194,195.8L190,195.6L188.1,195.1L187,194.2L186.6,193.1L187.7,191.1Z" fill="#b3b637" stroke="#b3b637" stroke-width="0.7"/>
<path d="M213.7,34.1L212.1,44.1L212.1,47.1L213.4,53.1L216,58.8L219,63.2L223.5,67.1L230,70.5L235,71.6L239.1,71.1L244.1,69.1L247.6,66.1L249.7,62.1L250.4,57.1L249.9,50.1L247.7,39.1L245.8,34.1M250,148.7L248,149.9L247.3,151.1L246.8,154.1L247.1,158.1L247.9,160.1L249,161.2L251,162.1L253,162.2L255.3,161.1L256.8,159.1L257.6,156.1L257.6,153.1L256.9,151.1L255,149.3L253,148.5ZM311,198.8L309.3,200.1L309.8,201.1L313,202.5L315.4,202.1L317.2,201.1L317.7,200.1L316.7,199.1L314,198.1Z" fill="none" stroke="#1a1a1a" stroke-width="0.72"/>
<path d="M199,34.1L200.5,39.1L202.8,44.1L205.4,56.1L207.7,61.1L211,66.6L216,72.6L222,77.8L228,81.8L231,83L233,83.3L236,82.7L250,77L258,75.3L264,75.7L275,79.7L276,79.5L277.3,78.1L278.5,73.1L278.2,71.1L277,68.6L273,63.4L266,57.6L264,55L262,51.3L260.6,46.1L259.1,34.1M373,192.9L349,189.9L335,186.9L328,186.2L322,186.4L314,188L308,190.8L305.2,193.1L303.5,195.1L302.5,197.1L301.9,200.1L302.6,204.1L305,208.3L309,211L315,212.8L320,213.3L332,211.8L339,211.9L347,212.8L359,215.5L362,215.7L368,215.3L373,214.1M255,134.9L249.5,137.1L245,140.2L239.7,146.1L238,148.9L237.3,151.1L237.4,161.1L238.7,167.1L240.3,170.1L242.8,173.1L245,174.9L247,175.6L255,175.6L259,173.5L262.5,170.1L265,166.9L266.9,163.1L268,159.1L268.7,153.1L268.8,147.1L268.3,142.1L267.4,139.1L265,136.2L262,134.7L259,134.3Z" fill="none" stroke="#1a1a1a" stroke-width="0.72"/>
<path d="M185.3,34.1L189.3,43.1L193,49.6L198.6,62.1L204.5,73.1L213.2,87.1L216.3,91.1L218.6,93.1L225,96.6L227,97L229,96.7L235,94L242,89L248,85.7L253,83.9L258,83.2L263,84L267,86.1L270,89.1L273,94.1L273.8,97.1L274.9,107.1L272.6,113.1L268.4,120.1L266.6,122.1L263.9,124.1L249,130.8L241.2,136.1L235.7,142.1L233.4,146.1L231.9,150.1L230.5,156.1L229.7,164.1L230,171.1L230.9,176.1L232.6,179.1L235.1,181.1L239,182.6L244,183.3L252,182.6L259,180.7L265,177.6L268.7,174.1L272,168.7L275.2,161.1L278.2,147.1L281.7,137.1L284.8,132.1L292,124.9L293.9,120.1L293.9,111.1L293,100.5L290.7,83.1L287.6,66.1L285.2,59.1L281.4,55.1L279.8,52.1L275.9,39.1L275.1,34.1M373,157.5L364,160.1L328,175.1L313,180.3L306,183.6L301,186.8L298.1,190.1L296.7,194.1L296.3,199.1L297.2,205.1L299.7,210.1L304,214.5L309,217.6L321,221.7L351,228.1L356,231L373,237.7M198.9,290.1L204.4,282.1L209.8,272.1L213,268.7L215.9,261.1L216.9,256.1L216.6,251.1L215.5,248.1L212.4,245.1L189.2,231.1L185,229.1L181,228.2L169,228L159,228.4L139,231.7L117,233.7M146,102L141.8,103.1L138.1,105.1L134.7,108.1L132.8,111.1L131.7,115.1L131.6,121.1L132.7,126.1L134.5,129.1L140.4,135.1L149,142.3L156,147.2L162,150.1L168,152.1L173,152.4L179,151.2L183,149.1L186,146.1L188,142.2L189.3,137.1L189.9,131.1L189.5,126.1L188.2,120.1L184.5,111.1L182.7,108.1L180.5,106.1L178,104.7L170,102.4L158,101.4L146,102" fill="none" stroke="#1a1a1a" stroke-width="0.72"/>
<path d="M169.1,34.1L183,53.1L188,65.1L189.5,71.1L190,77.1L189.4,83.1L187.9,86.1L186,87.8L183,89.2L179,90.4L175,90.8L165,90.1L133,85.3L125,85.5L117,87M373,124.1L366.6,130.1L328.9,156.1L313.4,169.1L302,176.8L298,180.1L294.2,184.1L291.7,188.1L290.1,193.1L289.7,198.1L290.5,205.1L292.6,211.1L296.5,217.1L301,221.4L307,225.3L315,228.8L347,238.1L352.7,242.1L360.6,249.1L367.3,256.1L373,263.2M117,144.5L156,160.7L162,162.7L167,163.9L171,164.3L175,164.1L179,163L185,159.6L192.5,153.1L204.6,139.1L215,126L221.8,119.1L226.6,112.1L242,97.1L246,94L250,91.9L255,90.5L259,90.6L261,91.3L263,92.8L264.6,95.1L265.3,97.1L265.5,100.1L265,103.1L263.9,106.1L261.9,109.1L257,114.6L251.5,119.1L247,121.7L228.8,130.1L226.4,132.1L225.2,134.1L223.6,143.1L221.3,175.1L221.4,179.1L223,183.7L226,187L231,189.6L237,190.9L246,191.3L254,190.5L263.3,188.1L270.4,185.1L274.2,182.1L277.7,177.1L279.6,173.1L280,169.6L282,163.7L287,152.2L292,143.6L300.4,133.1L303.1,127.1L304.2,121.1L304.3,116.1L300.3,86.1L300.8,81.1L302,78.2L304,76.6L306,76.6L315,82.5L317,83L320,82.5L324,80.8L327.7,78.1L334.9,71.1L336.1,69.1L336.7,67.1L336.4,64.1L335.2,62.1L332.6,60.1L329,58.7L325,58.2L320,58.5L317,59.4L315,61L312,61.8L310,61.5L308,59.9L305.2,56.1L302.4,49.1L301.4,42.1L301.7,34.1M216.5,290.1L218,284.8L222.2,275.1L225.4,270.1L229.6,265.1L235,260.5L263,241.4L267,237.5L268.5,235.1L269.1,232.1L268.5,229.1L267.2,227.1L264,226L258,226.4L254,227.3L245,230.4L241,231.1L231,230.3L219,228.4L200,223.7L168,218.2L129,209.8L117,207.8M306.3,290.1L303.1,282.1L299.3,276.1L290,266.8L287,265.4L284,264.9L281,265.2L279,266.2L276.4,269.1L275.1,272.1L274.7,278.1L275.5,286.1L276.6,290.1" fill="none" stroke="#1a1a1a" stroke-width="0.72"/>
<path d="M232.5,290.1L232.4,287.1L233.5,278.1L235,273.1L237,270.7L240,268.8L245,266.8L249,266.2L252,266.6L255,267.8L256.6,269.1L258,271.1L259.2,277.1L259.9,287.1L259.5,290.1M158,58.7L161,59.1L163,60.6L164,62.1L165.3,66.1L165.6,69.1L165,70.9L164,71.6L163,71.3L157.3,63.1L156.7,60.1ZM321,104.9L324,104.4L326,104.9L329,106.5L332,109L334.4,112.1L336.1,115.1L337.1,118.1L337.3,121.1L335.8,128.1L334.3,131.1L332,134.1L326,139.1L323,140.6L320,141.2L318,140.7L316.4,139.1L315.5,136.1L315.4,132.1L317.4,116.1L317.7,108.1L319,106.1ZM205,157L207,156.8L209,157.3L211,159.1L212.8,162.1L214.3,167.1L214.8,179.1L215.5,183.1L219,191.1L223,195.6L226,197.4L230,198.7L241,199.8L250,199.7L269,197.1L273,197.2L276,198.8L278.3,202.1L279.1,207.1L278,211.5L277,212.6L275,213.4L266,213.8L259,215.5L255,217L250.5,220.1L248,221.2L243,222L237,221.6L209,214.7L190,213.7L181,212.3L174,210.5L142,197.5L140,197L135,196.6L129.5,192.1L126.1,187.1L125.2,182.1L125.9,178.1L127,176.1L128.8,174.1L132.5,172.1L138,170.8L145,170.2L168,173.4L179,172.9L182,172.1L185,170.5L193.4,163.1L197,160.6L201,158.5ZM286,231L290,230.4L295,231.7L307,238.5L335,250.3L338.1,253.1L340.1,257.1L340.6,261.1L339.3,265.1L338,266.5L336,267.8L332,268.5L328,268L319,265.1L316,264.6L303,256.5L286.5,248.1L283.6,245.1L282.6,242.1L282.2,239.1L283,234.4L284,232.8Z" fill="none" stroke="#1a1a1a" stroke-width="0.72"/>
<path d="M198,174.1L201,174L205.6,175.1L210.4,183.1L211.1,186.1L212.2,198.1L211,201.8L209,203.6L204.4,205.1L196.8,206.1L188,206.3L181,205.8L178,205L174,203L167.2,198.1L164.3,195.1L163,192.1L163,189.1L164.3,187.1L166.7,185.1L169,184L187,178.7Z" fill="none" stroke="#1a1a1a" stroke-width="0.72"/>
</g>
<path d="M143.1,180.8L146.9,184.6M143.1,184.6L146.9,180.8" stroke="#2a2a2a" stroke-width="0.75"/>
<path d="M163.7,184.7L167.5,188.5M163.7,188.5L167.5,184.7" stroke="#2a2a2a" stroke-width="0.75"/>
<path d="M179.2,198.5L183.0,202.3M179.2,202.3L183.0,198.5" stroke="#2a2a2a" stroke-width="0.75"/>
<path d="M201.4,188.9L205.2,192.8M201.4,192.8L205.2,188.9" stroke="#2a2a2a" stroke-width="0.75"/>
<path d="M204.9,163.9L208.8,167.8M204.9,167.8L208.8,163.9" stroke="#2a2a2a" stroke-width="0.75"/>
<path d="M220.2,202.4L224.0,206.2M220.2,206.2L224.0,202.4" stroke="#2a2a2a" stroke-width="0.75"/>
<path d="M242.8,214.8L246.6,218.6M242.8,218.6L246.6,214.8" stroke="#2a2a2a" stroke-width="0.75"/>
<path d="M243.2,274.1L247.1,277.9M243.2,277.9L247.1,274.1" stroke="#2a2a2a" stroke-width="0.75"/>
<path d="M222.5,37.8 L244.8,17.6 L267.2,37.6" fill="none" stroke="#000" stroke-width="1.8" stroke-linejoin="miter"/>
<path d="M119.6,147.2 L117.4,144.1 L114.6,142.5 L111.3,143.1 L108.6,145.9 L107.8,148.5 L108.3,161.4 L107.8,175.4 L107.2,185.7 L109,191.3 L111.4,195 L115.6,197.2 L118.8,195 L121.8,192.9" fill="none" stroke="#000" stroke-width="1.8" stroke-linejoin="round"/>
<path d="M370.3,147.2 L372.5,144.1 L375.3,142.5 L378.6,143.1 L381.3,145.9 L382.1,148.5 L381.8,161.4 L382.1,175.1 L382.7,185 L380.6,192.2 L378.2,195.3 L374.3,197.2 L371,195.4 L368.1,192.9" fill="none" stroke="#000" stroke-width="1.8" stroke-linejoin="round"/>
<circle cx="244.9" cy="162.0" r="125.9" fill="none" stroke="#000" stroke-width="1.8"/>
<path d="M454.5,5.5 L454.5,263.5 L705.9,263.5" fill="none" stroke="#666" stroke-width="1"/>
<line x1="454.5" y1="263.50" x2="457.0" y2="263.50" stroke="#666" stroke-width="1"/>
<text x="449.9" y="267.8" font-size="11.5" text-anchor="end" font-weight="normal" fill="#262626">2</text>
<line x1="454.5" y1="199.00" x2="457.0" y2="199.00" stroke="#666" stroke-width="1"/>
<text x="449.9" y="203.3" font-size="11.5" text-anchor="end" font-weight="normal" fill="#262626">3</text>
<line x1="454.5" y1="134.50" x2="457.0" y2="134.50" stroke="#666" stroke-width="1"/>
<text x="449.9" y="138.8" font-size="11.5" text-anchor="end" font-weight="normal" fill="#262626">4</text>
<line x1="454.5" y1="70.00" x2="457.0" y2="70.00" stroke="#666" stroke-width="1"/>
<text x="449.9" y="74.3" font-size="11.5" text-anchor="end" font-weight="normal" fill="#262626">5</text>
<line x1="454.5" y1="5.50" x2="457.0" y2="5.50" stroke="#666" stroke-width="1"/>
<text x="449.9" y="9.8" font-size="11.5" text-anchor="end" font-weight="normal" fill="#262626">6</text>
<line x1="454.50" y1="263.5" x2="454.50" y2="261.0" stroke="#666" stroke-width="1"/>
<text x="454.5" y="279.2" font-size="11.5" text-anchor="middle" font-weight="normal" fill="#262626">0</text>
<line x1="517.35" y1="263.5" x2="517.35" y2="261.0" stroke="#666" stroke-width="1"/>
<text x="517.35" y="279.2" font-size="11.5" text-anchor="middle" font-weight="normal" fill="#262626">1</text>
<line x1="580.20" y1="263.5" x2="580.20" y2="261.0" stroke="#666" stroke-width="1"/>
<text x="580.2" y="279.2" font-size="11.5" text-anchor="middle" font-weight="normal" fill="#262626">2</text>
<line x1="643.05" y1="263.5" x2="643.05" y2="261.0" stroke="#666" stroke-width="1"/>
<text x="643.05" y="279.2" font-size="11.5" text-anchor="middle" font-weight="normal" fill="#262626">3</text>
<line x1="705.90" y1="263.5" x2="705.90" y2="261.0" stroke="#666" stroke-width="1"/>
<text x="705.9" y="279.2" font-size="11.5" text-anchor="middle" font-weight="normal" fill="#262626">4</text>
<circle cx="515.7" cy="44.7" r="2.6" fill="#3a5cb8" stroke="#141c3c" stroke-width="0.75"/>
<circle cx="503" cy="71.8" r="2.6" fill="#3a5cb8" stroke="#141c3c" stroke-width="0.75"/>
<circle cx="538.8" cy="73.5" r="2.6" fill="#3a5cb8" stroke="#141c3c" stroke-width="0.75"/>
<circle cx="539.5" cy="77.6" r="2.6" fill="#3a5cb8" stroke="#141c3c" stroke-width="0.75"/>
<circle cx="487.3" cy="86.6" r="2.6" fill="#3a5cb8" stroke="#141c3c" stroke-width="0.75"/>
<circle cx="518.1" cy="95.7" r="2.6" fill="#3a5cb8" stroke="#141c3c" stroke-width="0.75"/>
<circle cx="487" cy="98.2" r="2.6" fill="#3a5cb8" stroke="#141c3c" stroke-width="0.75"/>
<circle cx="503.3" cy="101.4" r="2.6" fill="#3a5cb8" stroke="#141c3c" stroke-width="0.75"/>
<circle cx="511.1" cy="114.9" r="2.6" fill="#3a5cb8" stroke="#141c3c" stroke-width="0.75"/>
<circle cx="494.7" cy="118.9" r="2.6" fill="#3a5cb8" stroke="#141c3c" stroke-width="0.75"/>
<circle cx="538.5" cy="120.1" r="2.6" fill="#3a5cb8" stroke="#141c3c" stroke-width="0.75"/>
<circle cx="488.5" cy="127.2" r="2.6" fill="#3a5cb8" stroke="#141c3c" stroke-width="0.75"/>
<circle cx="501.4" cy="132.5" r="2.6" fill="#3a5cb8" stroke="#141c3c" stroke-width="0.75"/>
<circle cx="509.3" cy="136.3" r="2.6" fill="#3a5cb8" stroke="#141c3c" stroke-width="0.75"/>
<circle cx="514.9" cy="136.3" r="2.6" fill="#3a5cb8" stroke="#141c3c" stroke-width="0.75"/>
<circle cx="481" cy="140.8" r="2.6" fill="#3a5cb8" stroke="#141c3c" stroke-width="0.75"/>
<circle cx="534.4" cy="141.4" r="2.6" fill="#3a5cb8" stroke="#141c3c" stroke-width="0.75"/>
<circle cx="490.2" cy="145.8" r="2.6" fill="#3a5cb8" stroke="#141c3c" stroke-width="0.75"/>
<circle cx="498.1" cy="152.9" r="2.6" fill="#3a5cb8" stroke="#141c3c" stroke-width="0.75"/>
<circle cx="530.5" cy="151.2" r="2.6" fill="#3a5cb8" stroke="#141c3c" stroke-width="0.75"/>
<circle cx="493.7" cy="159.6" r="2.6" fill="#3a5cb8" stroke="#141c3c" stroke-width="0.75"/>
<circle cx="506" cy="187.9" r="2.6" fill="#3a5cb8" stroke="#141c3c" stroke-width="0.75"/>
<circle cx="499" cy="195" r="2.6" fill="#3a5cb8" stroke="#141c3c" stroke-width="0.75"/>
<circle cx="480" cy="198.9" r="2.6" fill="#3a5cb8" stroke="#141c3c" stroke-width="0.75"/>
<circle cx="484.7" cy="196.7" r="2.6" fill="#3a5cb8" stroke="#141c3c" stroke-width="0.75"/>
<circle cx="485.2" cy="200.6" r="2.6" fill="#3a5cb8" stroke="#141c3c" stroke-width="0.75"/>
<circle cx="487.2" cy="234.3" r="2.6" fill="#3a5cb8" stroke="#141c3c" stroke-width="0.75"/>
<circle cx="480.8" cy="252.5" r="2.6" fill="#3a5cb8" stroke="#141c3c" stroke-width="0.75"/>
<circle cx="567.1" cy="162" r="2.6" fill="#3a5cb8" stroke="#141c3c" stroke-width="0.75"/>
<circle cx="619.6" cy="83.3" r="2.6" fill="#3a5cb8" stroke="#141c3c" stroke-width="0.75"/>
<circle cx="656" cy="93.6" r="2.6" fill="#3a5cb8" stroke="#141c3c" stroke-width="0.75"/>
<line x1="454.5" y1="167.6" x2="674.4" y2="54.2" stroke="#222" stroke-width="0.85"/>
<text x="424.2" y="198.3" font-size="15.1" text-anchor="start" font-weight="normal" fill="#000" transform="rotate(-90 424.2 198.3)">Infant negative affect</text>
<text x="456.3" y="308.6" font-size="15" text-anchor="start" font-weight="normal" fill="#000">Relative alpha power ((microvolts/m<tspan font-size="10" dy="-4.8">2</tspan><tspan dy="4.8">)</tspan><tspan font-size="10" dy="-4.8">2</tspan><tspan dy="4.8">)</tspan></text>
<path d="M71.5,376.4 L71.5,634.5 L322.7,634.5" fill="none" stroke="#666" stroke-width="1"/>
<line x1="71.5" y1="612.99" x2="74.0" y2="612.99" stroke="#666" stroke-width="1"/>
<text x="66.8" y="617.0916666666667" font-size="11.5" text-anchor="end" font-weight="normal" fill="#262626">70</text>
<line x1="71.5" y1="569.98" x2="74.0" y2="569.98" stroke="#666" stroke-width="1"/>
<text x="66.8" y="574.075" font-size="11.5" text-anchor="end" font-weight="normal" fill="#262626">80</text>
<line x1="71.5" y1="526.96" x2="74.0" y2="526.96" stroke="#666" stroke-width="1"/>
<text x="66.8" y="531.0583333333333" font-size="11.5" text-anchor="end" font-weight="normal" fill="#262626">90</text>
<line x1="71.5" y1="483.94" x2="74.0" y2="483.94" stroke="#666" stroke-width="1"/>
<text x="66.8" y="488.0416666666667" font-size="11.5" text-anchor="end" font-weight="normal" fill="#262626">100</text>
<line x1="71.5" y1="440.92" x2="74.0" y2="440.92" stroke="#666" stroke-width="1"/>
<text x="66.8" y="445.025" font-size="11.5" text-anchor="end" font-weight="normal" fill="#262626">110</text>
<line x1="71.5" y1="397.91" x2="74.0" y2="397.91" stroke="#666" stroke-width="1"/>
<text x="66.8" y="402.0083333333333" font-size="11.5" text-anchor="end" font-weight="normal" fill="#262626">120</text>
<line x1="71.50" y1="634.5" x2="71.50" y2="632.0" stroke="#666" stroke-width="1"/>
<text x="71.5" y="650.2" font-size="11.5" text-anchor="middle" font-weight="normal" fill="#262626">-0.08</text>
<line x1="121.74" y1="634.5" x2="121.74" y2="632.0" stroke="#666" stroke-width="1"/>
<text x="121.74" y="650.2" font-size="11.5" text-anchor="middle" font-weight="normal" fill="#262626">-0.04</text>
<line x1="171.98" y1="634.5" x2="171.98" y2="632.0" stroke="#666" stroke-width="1"/>
<text x="171.98" y="650.2" font-size="11.5" text-anchor="middle" font-weight="normal" fill="#262626">0</text>
<line x1="222.22" y1="634.5" x2="222.22" y2="632.0" stroke="#666" stroke-width="1"/>
<text x="222.21999999999997" y="650.2" font-size="11.5" text-anchor="middle" font-weight="normal" fill="#262626">0.04</text>
<line x1="272.46" y1="634.5" x2="272.46" y2="632.0" stroke="#666" stroke-width="1"/>
<text x="272.46" y="650.2" font-size="11.5" text-anchor="middle" font-weight="normal" fill="#262626">0.08</text>
<line x1="322.70" y1="634.5" x2="322.70" y2="632.0" stroke="#666" stroke-width="1"/>
<text x="322.7" y="650.2" font-size="11.5" text-anchor="middle" font-weight="normal" fill="#262626">0.12</text>
<circle cx="72.3" cy="483.8" r="2.6" fill="#3a5cb8" stroke="#141c3c" stroke-width="0.75"/>
<circle cx="127.6" cy="483.8" r="2.6" fill="#3a5cb8" stroke="#141c3c" stroke-width="0.75"/>
<circle cx="151.8" cy="462.2" r="2.6" fill="#3a5cb8" stroke="#141c3c" stroke-width="0.75"/>
<circle cx="158.1" cy="462.2" r="2.6" fill="#3a5cb8" stroke="#141c3c" stroke-width="0.75"/>
<circle cx="159.7" cy="483.8" r="2.6" fill="#3a5cb8" stroke="#141c3c" stroke-width="0.75"/>
<circle cx="175.6" cy="462.2" r="2.6" fill="#3a5cb8" stroke="#141c3c" stroke-width="0.75"/>
<circle cx="176.8" cy="440.7" r="2.6" fill="#3a5cb8" stroke="#141c3c" stroke-width="0.75"/>
<circle cx="182.5" cy="419" r="2.6" fill="#3a5cb8" stroke="#141c3c" stroke-width="0.75"/>
<circle cx="173.7" cy="483.8" r="2.6" fill="#3a5cb8" stroke="#141c3c" stroke-width="0.75"/>
<circle cx="176.8" cy="483.8" r="2.6" fill="#3a5cb8" stroke="#141c3c" stroke-width="0.75"/>
<circle cx="188.7" cy="483.8" r="2.6" fill="#3a5cb8" stroke="#141c3c" stroke-width="0.75"/>
<circle cx="179.5" cy="505.2" r="2.6" fill="#3a5cb8" stroke="#141c3c" stroke-width="0.75"/>
<circle cx="184.6" cy="505.2" r="2.6" fill="#3a5cb8" stroke="#141c3c" stroke-width="0.75"/>
<circle cx="191.4" cy="440.7" r="2.6" fill="#3a5cb8" stroke="#141c3c" stroke-width="0.75"/>
<circle cx="197" cy="440.7" r="2.6" fill="#3a5cb8" stroke="#141c3c" stroke-width="0.75"/>
<circle cx="196.1" cy="462.2" r="2.6" fill="#3a5cb8" stroke="#141c3c" stroke-width="0.75"/>
<circle cx="199.9" cy="462.2" r="2.6" fill="#3a5cb8" stroke="#141c3c" stroke-width="0.75"/>
<circle cx="204.8" cy="462.2" r="2.6" fill="#3a5cb8" stroke="#141c3c" stroke-width="0.75"/>
<circle cx="199.1" cy="505.2" r="2.6" fill="#3a5cb8" stroke="#141c3c" stroke-width="0.75"/>
<circle cx="215.4" cy="397.6" r="2.6" fill="#3a5cb8" stroke="#141c3c" stroke-width="0.75"/>
<circle cx="256.5" cy="462.2" r="2.6" fill="#3a5cb8" stroke="#141c3c" stroke-width="0.75"/>
<circle cx="257.3" cy="462.2" r="2.6" fill="#3a5cb8" stroke="#141c3c" stroke-width="0.75"/>
<circle cx="305.7" cy="462.2" r="2.6" fill="#3a5cb8" stroke="#141c3c" stroke-width="0.75"/>
<circle cx="262.1" cy="526.7" r="2.6" fill="#3a5cb8" stroke="#141c3c" stroke-width="0.75"/>
<circle cx="171.8" cy="526.6" r="2.6" fill="#3a5cb8" stroke="#141c3c" stroke-width="0.75"/>
<circle cx="146.4" cy="548.2" r="2.6" fill="#3a5cb8" stroke="#141c3c" stroke-width="0.75"/>
<circle cx="130.5" cy="591.4" r="2.6" fill="#3a5cb8" stroke="#141c3c" stroke-width="0.75"/>
<circle cx="172.6" cy="612.6" r="2.6" fill="#3a5cb8" stroke="#141c3c" stroke-width="0.75"/>
<line x1="71.5" y1="513.5" x2="322.6" y2="444.3" stroke="#222" stroke-width="0.85"/>
<text x="29.0" y="664.2" font-size="15.1" text-anchor="start" font-weight="normal" fill="#000" transform="rotate(-90 29.0 664.2)">Infant cognition (Bayley cognitive composite)</text>
<text x="49.3" y="679.7" font-size="16" text-anchor="start" font-weight="normal" fill="#000">Alpha anxiety network connectivity (dwPLI)</text>
<path d="M458.5,380.5 L458.5,638.9 L709.8,638.9" fill="none" stroke="#666" stroke-width="1"/>
<line x1="458.5" y1="638.90" x2="461.0" y2="638.90" stroke="#666" stroke-width="1"/>
<text x="453.6" y="643.5" font-size="11.5" text-anchor="end" font-weight="normal" fill="#262626">3</text>
<line x1="458.5" y1="574.30" x2="461.0" y2="574.30" stroke="#666" stroke-width="1"/>
<text x="453.6" y="578.9" font-size="11.5" text-anchor="end" font-weight="normal" fill="#262626">4</text>
<line x1="458.5" y1="509.70" x2="461.0" y2="509.70" stroke="#666" stroke-width="1"/>
<text x="453.6" y="514.3" font-size="11.5" text-anchor="end" font-weight="normal" fill="#262626">5</text>
<line x1="458.5" y1="445.10" x2="461.0" y2="445.10" stroke="#666" stroke-width="1"/>
<text x="453.6" y="449.70000000000005" font-size="11.5" text-anchor="end" font-weight="normal" fill="#262626">6</text>
<line x1="458.5" y1="380.50" x2="461.0" y2="380.50" stroke="#666" stroke-width="1"/>
<text x="453.6" y="385.1" font-size="11.5" text-anchor="end" font-weight="normal" fill="#262626">7</text>
<line x1="458.50" y1="638.9" x2="458.50" y2="636.4" stroke="#666" stroke-width="1"/>
<text x="458.5" y="654.3" font-size="11.5" text-anchor="middle" font-weight="normal" fill="#262626">-0.04</text>
<line x1="508.76" y1="638.9" x2="508.76" y2="636.4" stroke="#666" stroke-width="1"/>
<text x="508.76" y="654.3" font-size="11.5" text-anchor="middle" font-weight="normal" fill="#262626">-0.02</text>
<line x1="559.02" y1="638.9" x2="559.02" y2="636.4" stroke="#666" stroke-width="1"/>
<text x="559.02" y="654.3" font-size="11.5" text-anchor="middle" font-weight="normal" fill="#262626">0</text>
<line x1="609.28" y1="638.9" x2="609.28" y2="636.4" stroke="#666" stroke-width="1"/>
<text x="609.28" y="654.3" font-size="11.5" text-anchor="middle" font-weight="normal" fill="#262626">0.02</text>
<line x1="659.54" y1="638.9" x2="659.54" y2="636.4" stroke="#666" stroke-width="1"/>
<text x="659.54" y="654.3" font-size="11.5" text-anchor="middle" font-weight="normal" fill="#262626">0.04</text>
<line x1="709.80" y1="638.9" x2="709.80" y2="636.4" stroke="#666" stroke-width="1"/>
<text x="709.8" y="654.3" font-size="11.5" text-anchor="middle" font-weight="normal" fill="#262626">0.06</text>
<circle cx="481.4" cy="487.8" r="2.6" fill="#3a5cb8" stroke="#141c3c" stroke-width="0.75"/>
<circle cx="535.7" cy="462.6" r="2.6" fill="#3a5cb8" stroke="#141c3c" stroke-width="0.75"/>
<circle cx="560.2" cy="467.1" r="2.6" fill="#3a5cb8" stroke="#141c3c" stroke-width="0.75"/>
<circle cx="572.4" cy="474.3" r="2.6" fill="#3a5cb8" stroke="#141c3c" stroke-width="0.75"/>
<circle cx="574" cy="481.9" r="2.6" fill="#3a5cb8" stroke="#141c3c" stroke-width="0.75"/>
<circle cx="569.5" cy="487.1" r="2.6" fill="#3a5cb8" stroke="#141c3c" stroke-width="0.75"/>
<circle cx="559.6" cy="491.6" r="2.6" fill="#3a5cb8" stroke="#141c3c" stroke-width="0.75"/>
<circle cx="558.4" cy="501.9" r="2.6" fill="#3a5cb8" stroke="#141c3c" stroke-width="0.75"/>
<circle cx="540.2" cy="505.8" r="2.6" fill="#3a5cb8" stroke="#141c3c" stroke-width="0.75"/>
<circle cx="579.8" cy="510.4" r="2.6" fill="#3a5cb8" stroke="#141c3c" stroke-width="0.75"/>
<circle cx="551.2" cy="518" r="2.6" fill="#3a5cb8" stroke="#141c3c" stroke-width="0.75"/>
<circle cx="561.5" cy="517.4" r="2.6" fill="#3a5cb8" stroke="#141c3c" stroke-width="0.75"/>
<circle cx="556.8" cy="521.4" r="2.6" fill="#3a5cb8" stroke="#141c3c" stroke-width="0.75"/>
<circle cx="553.3" cy="528.6" r="2.6" fill="#3a5cb8" stroke="#141c3c" stroke-width="0.75"/>
<circle cx="557.9" cy="529.1" r="2.6" fill="#3a5cb8" stroke="#141c3c" stroke-width="0.75"/>
<circle cx="666.2" cy="426.6" r="2.6" fill="#3a5cb8" stroke="#141c3c" stroke-width="0.75"/>
<circle cx="635.3" cy="447.8" r="2.6" fill="#3a5cb8" stroke="#141c3c" stroke-width="0.75"/>
<circle cx="666.2" cy="454.8" r="2.6" fill="#3a5cb8" stroke="#141c3c" stroke-width="0.75"/>
<circle cx="604.4" cy="461.3" r="2.6" fill="#3a5cb8" stroke="#141c3c" stroke-width="0.75"/>
<circle cx="599.6" cy="466.6" r="2.6" fill="#3a5cb8" stroke="#141c3c" stroke-width="0.75"/>
<circle cx="583.7" cy="476.7" r="2.6" fill="#3a5cb8" stroke="#141c3c" stroke-width="0.75"/>
<circle cx="602.7" cy="477.4" r="2.6" fill="#3a5cb8" stroke="#141c3c" stroke-width="0.75"/>
<circle cx="594.0" cy="505.8" r="2.6" fill="#3a5cb8" stroke="#141c3c" stroke-width="0.75"/>
<circle cx="590.8" cy="516.9" r="2.6" fill="#3a5cb8" stroke="#141c3c" stroke-width="0.75"/>
<circle cx="538.1" cy="558.9" r="2.6" fill="#3a5cb8" stroke="#141c3c" stroke-width="0.75"/>
<circle cx="562.6" cy="566.4" r="2.6" fill="#3a5cb8" stroke="#141c3c" stroke-width="0.75"/>
<circle cx="585.7" cy="571.5" r="2.6" fill="#3a5cb8" stroke="#141c3c" stroke-width="0.75"/>
<circle cx="518.7" cy="576.2" r="2.6" fill="#3a5cb8" stroke="#141c3c" stroke-width="0.75"/>
<circle cx="569.1" cy="606.5" r="2.6" fill="#3a5cb8" stroke="#141c3c" stroke-width="0.75"/>
<line x1="458.5" y1="557.9" x2="684.8" y2="457.9" stroke="#222" stroke-width="0.85"/>
<text x="423.3" y="620.8" font-size="15.1" text-anchor="start" font-weight="normal" fill="#000" transform="rotate(-90 423.3 620.8)">Infant attentional/regulatory ability</text>
<text x="458.9" y="679.8" font-size="15.1" text-anchor="start" font-weight="normal" fill="#000">Whole-brain theta connectivity (dwPLI)</text>
</svg>
</body></html>
